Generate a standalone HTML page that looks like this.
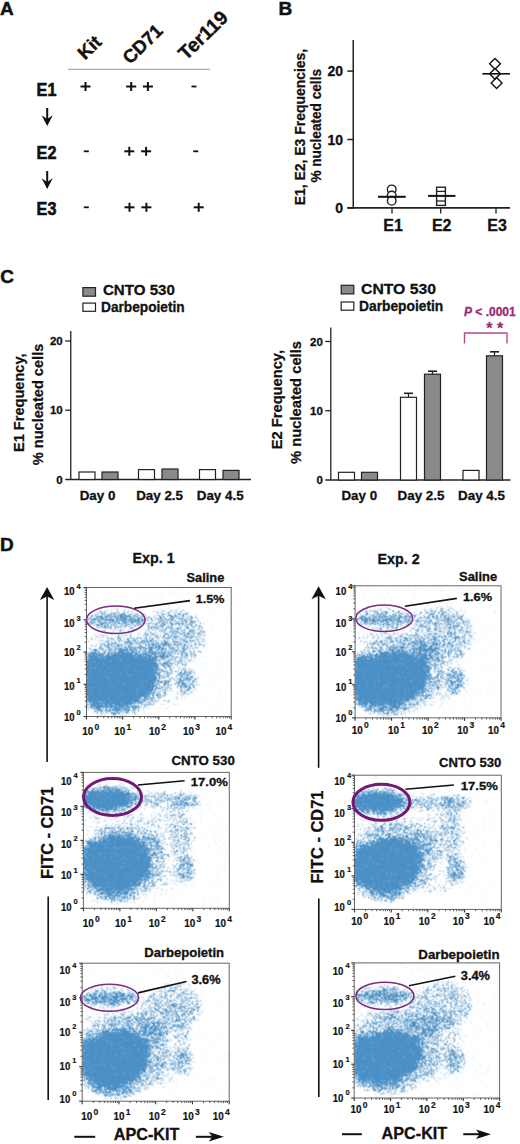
<!DOCTYPE html>
<html><head><meta charset="utf-8"><style>
html,body{margin:0;padding:0;background:#fff;}
body{width:520px;height:1144px;overflow:hidden;}
svg{display:block;font-family:"Liberation Sans", sans-serif;}
</style></head><body>
<svg width="520" height="1144" viewBox="0 0 520 1144">
<text x="0" y="15.4" font-size="19" text-anchor="start" font-weight="bold" fill="#111" stroke="#111" stroke-width="0.5" >A</text>
<g>
<text transform="translate(85,60.5) rotate(-44)" font-size="18.5" font-weight="bold" fill="#111" stroke="#111" stroke-width="0.4">Kit</text>
<text transform="translate(130,65) rotate(-44)" font-size="18.5" font-weight="bold" fill="#111" stroke="#111" stroke-width="0.4">CD71</text>
<text transform="translate(186,61) rotate(-44)" font-size="19.5" font-weight="bold" fill="#111" stroke="#111" stroke-width="0.4">Ter119</text>
</g>
<line x1="68" y1="69.3" x2="210" y2="69.3" stroke="#aaa" stroke-width="1.2" />
<text x="36.60" y="95.9" font-size="17.5" font-weight="bold" fill="#111" textLength="19.80" lengthAdjust="spacingAndGlyphs" stroke="#111" stroke-width="0.6" >E1</text>
<text x="36.60" y="159.4" font-size="17.5" font-weight="bold" fill="#111" textLength="19.80" lengthAdjust="spacingAndGlyphs" stroke="#111" stroke-width="0.6" >E2</text>
<text x="36.60" y="214.9" font-size="17.5" font-weight="bold" fill="#111" textLength="19.80" lengthAdjust="spacingAndGlyphs" stroke="#111" stroke-width="0.6" >E3</text>
<line x1="47.2" y1="108" x2="47.2" y2="121" stroke="#111" stroke-width="2" />
<path d="M47.2,126 L41.6,115.2 L47.2,119 L52.8,115.2 Z" fill="#111"/>
<line x1="47.2" y1="171" x2="47.2" y2="184" stroke="#111" stroke-width="2" />
<path d="M47.2,189 L41.6,178.2 L47.2,182 L52.8,178.2 Z" fill="#111"/>
<line x1="80.5" y1="86.5" x2="90.5" y2="86.5" stroke="#111" stroke-width="2" />
<line x1="85.5" y1="82.0" x2="85.5" y2="91.0" stroke="#111" stroke-width="2" />
<line x1="126.19999999999999" y1="86.5" x2="136.2" y2="86.5" stroke="#111" stroke-width="2" />
<line x1="131.2" y1="82.0" x2="131.2" y2="91.0" stroke="#111" stroke-width="2" />
<line x1="142.9" y1="86.5" x2="152.9" y2="86.5" stroke="#111" stroke-width="2" />
<line x1="147.9" y1="82.0" x2="147.9" y2="91.0" stroke="#111" stroke-width="2" />
<line x1="191.5" y1="86.5" x2="196.5" y2="86.5" stroke="#111" stroke-width="1.8" />
<line x1="83.8" y1="151.3" x2="88.8" y2="151.3" stroke="#111" stroke-width="1.8" />
<line x1="124.30000000000001" y1="151.3" x2="134.3" y2="151.3" stroke="#111" stroke-width="2" />
<line x1="129.3" y1="146.8" x2="129.3" y2="155.8" stroke="#111" stroke-width="2" />
<line x1="141.1" y1="151.3" x2="151.1" y2="151.3" stroke="#111" stroke-width="2" />
<line x1="146.1" y1="146.8" x2="146.1" y2="155.8" stroke="#111" stroke-width="2" />
<line x1="193.2" y1="151.3" x2="198.2" y2="151.3" stroke="#111" stroke-width="1.8" />
<line x1="83.8" y1="207.3" x2="88.8" y2="207.3" stroke="#111" stroke-width="1.8" />
<line x1="124.5" y1="207.3" x2="134.5" y2="207.3" stroke="#111" stroke-width="2" />
<line x1="129.5" y1="202.8" x2="129.5" y2="211.8" stroke="#111" stroke-width="2" />
<line x1="141.4" y1="207.3" x2="151.4" y2="207.3" stroke="#111" stroke-width="2" />
<line x1="146.4" y1="202.8" x2="146.4" y2="211.8" stroke="#111" stroke-width="2" />
<line x1="193.7" y1="207.3" x2="203.7" y2="207.3" stroke="#111" stroke-width="2" />
<line x1="198.7" y1="202.8" x2="198.7" y2="211.8" stroke="#111" stroke-width="2" />
<text x="278.6" y="15" font-size="19" text-anchor="start" font-weight="bold" fill="#111" stroke="#111" stroke-width="0.5" >B</text>
<line x1="353.25" y1="40" x2="353.25" y2="208.6" stroke="#222" stroke-width="1.5" />
<line x1="347.3" y1="207.9" x2="510" y2="207.9" stroke="#222" stroke-width="1.6" />
<line x1="347.3" y1="71.1" x2="353.25" y2="71.1" stroke="#222" stroke-width="1.5" />
<text x="343" y="76.19999999999999" font-size="14" text-anchor="end" font-weight="bold" fill="#111" stroke="#111" stroke-width="0.3" >20</text>
<line x1="347.3" y1="139.5" x2="353.25" y2="139.5" stroke="#222" stroke-width="1.5" />
<text x="343" y="144.6" font-size="14" text-anchor="end" font-weight="bold" fill="#111" stroke="#111" stroke-width="0.3" >10</text>
<line x1="347.3" y1="207.9" x2="353.25" y2="207.9" stroke="#222" stroke-width="1.5" />
<text x="343" y="213.0" font-size="14" text-anchor="end" font-weight="bold" fill="#111" stroke="#111" stroke-width="0.3" >0</text>
<line x1="392" y1="208" x2="392" y2="213.5" stroke="#222" stroke-width="1.3" />
<text x="393" y="231.3" font-size="16" text-anchor="middle" font-weight="bold" fill="#111" stroke="#111" stroke-width="0.3" >E1</text>
<line x1="440.7" y1="208" x2="440.7" y2="213.5" stroke="#222" stroke-width="1.3" />
<text x="441.7" y="231.3" font-size="16" text-anchor="middle" font-weight="bold" fill="#111" stroke="#111" stroke-width="0.3" >E2</text>
<line x1="496" y1="208" x2="496" y2="213.5" stroke="#222" stroke-width="1.3" />
<text x="497" y="231.3" font-size="16" text-anchor="middle" font-weight="bold" fill="#111" stroke="#111" stroke-width="0.3" >E3</text>
<text transform="translate(305.1,205.30) rotate(-90)" font-size="14.00" font-weight="bold" fill="#111" textLength="156.49" lengthAdjust="spacingAndGlyphs" stroke="#111" stroke-width="0.25">E1, E2, E3 Frequencies,</text>
<text transform="translate(320.8,182.60) rotate(-90)" font-size="14.00" font-weight="bold" fill="#111" textLength="113.60" lengthAdjust="spacingAndGlyphs" stroke="#111" stroke-width="0.25">% nucleated cells</text>
<circle cx="391.7" cy="189.4" r="4.3" fill="#fff" stroke="#222" stroke-width="1.4"/>
<circle cx="391.7" cy="195.5" r="4.3" fill="#fff" stroke="#222" stroke-width="1.4"/>
<circle cx="391.7" cy="200.8" r="4.3" fill="#fff" stroke="#222" stroke-width="1.4"/>
<line x1="378" y1="196.8" x2="405.7" y2="196.8" stroke="#111" stroke-width="2" />
<rect x="436.6" y="187.2" width="8.8" height="18.2" fill="none" stroke="#222" stroke-width="1.4"/>
<line x1="436.6" y1="191.4" x2="445.4" y2="191.4" stroke="#222" stroke-width="1.3" />
<line x1="436.6" y1="201" x2="445.4" y2="201" stroke="#222" stroke-width="1.3" />
<line x1="428.1" y1="195.9" x2="455.4" y2="195.9" stroke="#111" stroke-width="2" />
<path d="M495,58.4 L500.4,63.8 L495,69.2 L489.6,63.8 Z" fill="none" stroke="#111" stroke-width="1.4"/>
<path d="M495,68.39999999999999 L500.4,73.8 L495,79.2 L489.6,73.8 Z" fill="none" stroke="#111" stroke-width="1.4"/>
<path d="M496.6,77.6 L502.0,83 L496.6,88.4 L491.20000000000005,83 Z" fill="none" stroke="#111" stroke-width="1.4"/>
<line x1="482.3" y1="73.8" x2="510" y2="73.8" stroke="#111" stroke-width="1.6" />
<text x="0.2" y="283" font-size="19" text-anchor="start" font-weight="bold" fill="#111" stroke="#111" stroke-width="0.5" >C</text>
<rect x="82.9" y="287.6" width="12.6" height="8.6" fill="#8a8a8a" stroke="#222" stroke-width="1.2"/>
<text x="102.90" y="295.2" font-size="15" font-weight="bold" fill="#111" textLength="72.00" lengthAdjust="spacingAndGlyphs" stroke="#111" stroke-width="0.3" >CNTO 530</text>
<rect x="82.9" y="303.1" width="12.6" height="8.2" fill="#fff" stroke="#222" stroke-width="1.2"/>
<text x="101.10" y="311.8" font-size="13.8" font-weight="bold" fill="#111" textLength="83.50" lengthAdjust="spacingAndGlyphs" stroke="#111" stroke-width="0.3" >Darbepoietin</text>
<rect x="341.2" y="285.3" width="12.6" height="8.6" fill="#8a8a8a" stroke="#222" stroke-width="1.2"/>
<text x="361.00" y="293.8" font-size="15" font-weight="bold" fill="#111" textLength="75.00" lengthAdjust="spacingAndGlyphs" stroke="#111" stroke-width="0.3" >CNTO 530</text>
<rect x="341.2" y="302" width="12.6" height="8.2" fill="#fff" stroke="#222" stroke-width="1.2"/>
<text x="359.00" y="310.8" font-size="13.8" font-weight="bold" fill="#111" textLength="84.30" lengthAdjust="spacingAndGlyphs" stroke="#111" stroke-width="0.3" >Darbepoietin</text>
<line x1="70.75" y1="331" x2="70.75" y2="480.1" stroke="#222" stroke-width="1.3" />
<line x1="65.25" y1="479.5" x2="251" y2="479.5" stroke="#222" stroke-width="1.3" />
<line x1="65.25" y1="341.0" x2="70.75" y2="341.0" stroke="#222" stroke-width="1.3" />
<text x="62.75" y="345.0" font-size="11.5" text-anchor="end" font-weight="bold" fill="#111" stroke="#111" stroke-width="0.3" >20</text>
<line x1="65.25" y1="410.2" x2="70.75" y2="410.2" stroke="#222" stroke-width="1.3" />
<text x="62.75" y="414.2" font-size="11.5" text-anchor="end" font-weight="bold" fill="#111" stroke="#111" stroke-width="0.3" >10</text>
<text x="62.75" y="483.5" font-size="11.5" text-anchor="end" font-weight="bold" fill="#111" stroke="#111" stroke-width="0.3" >0</text>
<rect x="79" y="472" width="16" height="7.5" fill="#fff" stroke="#222" stroke-width="1.2"/>
<rect x="102" y="472" width="16" height="7.5" fill="#8a8a8a" stroke="#222" stroke-width="1.2"/>
<rect x="138.5" y="469.6" width="16" height="9.899999999999977" fill="#fff" stroke="#222" stroke-width="1.2"/>
<rect x="162" y="469" width="16" height="10.5" fill="#8a8a8a" stroke="#222" stroke-width="1.2"/>
<rect x="199.5" y="469.6" width="16" height="9.899999999999977" fill="#fff" stroke="#222" stroke-width="1.2"/>
<rect x="223" y="470.4" width="16" height="9.100000000000023" fill="#8a8a8a" stroke="#222" stroke-width="1.2"/>
<text x="97.5" y="499.6" font-size="13.4" text-anchor="middle" font-weight="bold" fill="#111" stroke="#111" stroke-width="0.3" >Day 0</text>
<text x="159.6" y="499.6" font-size="13.4" text-anchor="middle" font-weight="bold" fill="#111" stroke="#111" stroke-width="0.3" >Day 2.5</text>
<text x="220.2" y="499.6" font-size="13.4" text-anchor="middle" font-weight="bold" fill="#111" stroke="#111" stroke-width="0.3" >Day 4.5</text>
<text transform="translate(24.0,452.00) rotate(-90)" font-size="14.50" font-weight="bold" fill="#111" textLength="98.50" lengthAdjust="spacingAndGlyphs" stroke="#111" stroke-width="0.25">E1 Frequency,</text>
<text transform="translate(42.7,465.30) rotate(-90)" font-size="14.60" font-weight="bold" fill="#111" textLength="121.60" lengthAdjust="spacingAndGlyphs" stroke="#111" stroke-width="0.25">% nucleated cells</text>
<line x1="330.8" y1="327.6" x2="330.8" y2="480.6" stroke="#222" stroke-width="1.3" />
<line x1="325.3" y1="480" x2="510.5" y2="480" stroke="#222" stroke-width="1.3" />
<line x1="325.3" y1="341.5" x2="330.8" y2="341.5" stroke="#222" stroke-width="1.3" />
<text x="322.8" y="345.5" font-size="11.5" text-anchor="end" font-weight="bold" fill="#111" stroke="#111" stroke-width="0.3" >20</text>
<line x1="325.3" y1="410.7" x2="330.8" y2="410.7" stroke="#222" stroke-width="1.3" />
<text x="322.8" y="414.7" font-size="11.5" text-anchor="end" font-weight="bold" fill="#111" stroke="#111" stroke-width="0.3" >10</text>
<text x="322.8" y="484" font-size="11.5" text-anchor="end" font-weight="bold" fill="#111" stroke="#111" stroke-width="0.3" >0</text>
<rect x="338.5" y="472.3" width="16" height="7.699999999999989" fill="#fff" stroke="#222" stroke-width="1.2"/>
<rect x="361.5" y="472.3" width="16" height="7.699999999999989" fill="#8a8a8a" stroke="#222" stroke-width="1.2"/>
<line x1="408.5" y1="393.3" x2="408.5" y2="397.3" stroke="#222" stroke-width="1.2" />
<line x1="404.0" y1="393.3" x2="413.0" y2="393.3" stroke="#222" stroke-width="1.6" />
<rect x="400.5" y="397.3" width="16" height="82.69999999999999" fill="#fff" stroke="#222" stroke-width="1.2"/>
<line x1="432.5" y1="371.2" x2="432.5" y2="374.2" stroke="#222" stroke-width="1.2" />
<line x1="428.0" y1="371.2" x2="437.0" y2="371.2" stroke="#222" stroke-width="1.6" />
<rect x="424.5" y="374.2" width="16" height="105.80000000000001" fill="#8a8a8a" stroke="#222" stroke-width="1.2"/>
<rect x="463" y="470.4" width="16" height="9.600000000000023" fill="#fff" stroke="#222" stroke-width="1.2"/>
<line x1="494.5" y1="351.8" x2="494.5" y2="355.8" stroke="#222" stroke-width="1.2" />
<line x1="490.0" y1="351.8" x2="499.0" y2="351.8" stroke="#222" stroke-width="1.6" />
<rect x="486.5" y="355.8" width="16" height="124.19999999999999" fill="#8a8a8a" stroke="#222" stroke-width="1.2"/>
<text x="359.3" y="500.4" font-size="13.4" text-anchor="middle" font-weight="bold" fill="#111" stroke="#111" stroke-width="0.3" >Day 0</text>
<text x="421" y="500.4" font-size="13.4" text-anchor="middle" font-weight="bold" fill="#111" stroke="#111" stroke-width="0.3" >Day 2.5</text>
<text x="481.5" y="500.4" font-size="13.4" text-anchor="middle" font-weight="bold" fill="#111" stroke="#111" stroke-width="0.3" >Day 4.5</text>
<text transform="translate(281.6,449.20) rotate(-90)" font-size="14.70" font-weight="bold" fill="#111" textLength="99.20" lengthAdjust="spacingAndGlyphs" stroke="#111" stroke-width="0.25">E2 Frequency,</text>
<text transform="translate(301.1,463.90) rotate(-90)" font-size="14.70" font-weight="bold" fill="#111" textLength="122.90" lengthAdjust="spacingAndGlyphs" stroke="#111" stroke-width="0.25">% nucleated cells</text>
<text x="464" y="316" font-size="12" text-anchor="start" font-weight="bold" fill="#9a2a78" stroke="#9a2a78" stroke-width="0.3" ><tspan font-style="italic">P</tspan> &lt; .0001</text>
<text x="494.8" y="333.5" font-size="16" text-anchor="middle" font-weight="bold" fill="#9a2a78" stroke="#9a2a78" stroke-width="0.2" >* *</text>
<path d="M464.5,343.5 V333 H507 V343.5" fill="none" stroke="#b44a8a" stroke-width="1.4"/>
<text x="0" y="550.5" font-size="19" text-anchor="start" font-weight="bold" fill="#111" stroke="#111" stroke-width="0.5" >D</text>
<text x="153.6" y="562.7" font-size="14.3" text-anchor="middle" font-weight="bold" fill="#111" stroke="#111" stroke-width="0.3" >Exp. 1</text>
<text x="398.6" y="563.5" font-size="14.3" text-anchor="middle" font-weight="bold" fill="#111" stroke="#111" stroke-width="0.3" >Exp. 2</text>
<line x1="47.1" y1="595" x2="47.1" y2="762" stroke="#111" stroke-width="1.6" />
<path d="M47.1,587 L54.300000000000004,600 L47.1,596.5 L39.9,600 Z" fill="#111"/>
<line x1="48.2" y1="896.5" x2="48.2" y2="1100" stroke="#111" stroke-width="1.6" />
<line x1="318.6" y1="594.2" x2="318.6" y2="767.8" stroke="#111" stroke-width="1.6" />
<path d="M318.6,586.2 L325.8,599.2 L318.6,595.7 L311.40000000000003,599.2 Z" fill="#111"/>
<line x1="318.8" y1="898.5" x2="318.8" y2="1097" stroke="#111" stroke-width="1.6" />
<text transform="translate(52.7,879.00) rotate(-90)" font-size="16.20" font-weight="bold" fill="#111" textLength="92.00" lengthAdjust="spacingAndGlyphs" stroke="#111" stroke-width="0.3">FITC - CD71</text>
<text transform="translate(323.3,883.50) rotate(-90)" font-size="16.20" font-weight="bold" fill="#111" textLength="92.90" lengthAdjust="spacingAndGlyphs" stroke="#111" stroke-width="0.3">FITC - CD71</text>
<line x1="74.3" y1="1136.8" x2="95.2" y2="1136.8" stroke="#111" stroke-width="2" />
<text x="146.55" y="1140.2" font-size="16.2" text-anchor="middle" font-weight="bold" fill="#111" stroke="#111" stroke-width="0.3" >APC-KIT</text>
<line x1="195.8" y1="1136.8" x2="217.8" y2="1136.8" stroke="#111" stroke-width="2" />
<path d="M223.8,1136.8 L208.8,1132.0 L212.3,1136.8 L208.8,1141.6 Z" fill="#111"/>
<line x1="342" y1="1134.2" x2="361.8" y2="1134.2" stroke="#111" stroke-width="2" />
<text x="414.45" y="1138.6" font-size="16.2" text-anchor="middle" font-weight="bold" fill="#111" stroke="#111" stroke-width="0.3" >APC-KIT</text>
<line x1="463.3" y1="1134.2" x2="485" y2="1134.2" stroke="#111" stroke-width="2" />
<path d="M491,1134.2 L476,1129.4 L479.5,1134.2 L476,1139.0 Z" fill="#111"/>
<defs><clipPath id="c1"><rect x="86.5" y="587.5" width="144.7" height="129.0"/></clipPath><filter id="f1" x="86.5" y="587.5" width="144.7" height="129.0" filterUnits="userSpaceOnUse" color-interpolation-filters="sRGB"><feGaussianBlur in="SourceAlpha" stdDeviation="2.5" result="d"/><feTurbulence type="fractalNoise" baseFrequency="1.7" numOctaves="2" seed="11" result="noise"/><feColorMatrix in="noise" type="matrix" values="0 0 0 0 0  0 0 0 0 0  0 0 0 0 0  1 0 0 0 0" result="nr"/><feComponentTransfer in="nr" result="u"><feFuncA type="table" tableValues="0.000 0.000 0.000 0.000 0.000 0.001 0.002 0.006 0.016 0.034 0.063 0.102 0.153 0.219 0.299 0.393 0.490 0.609 0.701 0.780 0.845 0.898 0.937 0.966 0.985 0.994 0.998 0.999 1.000 1.000 1.000 1.000 1.000"/></feComponentTransfer><feComposite in="d" in2="u" operator="arithmetic" k1="0" k2="6.6" k3="-6" k4="0" result="m"/><feFlood flood-color="#4a8fc5"/><feComposite in2="m" operator="in"/><feConvolveMatrix order="3" kernelMatrix="1 2 1 2 6 2 1 2 1" edgeMode="none"/></filter></defs>
<g clip-path="url(#c1)"><g filter="url(#f1)">
<rect x="86.5" y="587.5" width="144.7" height="129.0" fill="#fff" fill-opacity="0"/>
<ellipse cx="300.0" cy="800.0" rx="400" ry="800" fill="#000" fill-opacity="0.035" transform="rotate(0 300.0 800.0)"/>
<ellipse cx="116.0" cy="620.0" rx="28" ry="6.5" fill="#000" fill-opacity="0.62" transform="rotate(0 116.0 620.0)"/>
<ellipse cx="116.0" cy="620.0" rx="30" ry="10" fill="#000" fill-opacity="0.2" transform="rotate(0 116.0 620.0)"/>
<ellipse cx="168.0" cy="620.0" rx="30" ry="9" fill="#000" fill-opacity="0.22" transform="rotate(0 168.0 620.0)"/>
<ellipse cx="174.0" cy="640.0" rx="32" ry="28" fill="#000" fill-opacity="0.3" transform="rotate(-25 174.0 640.0)"/>
<ellipse cx="176.0" cy="643.0" rx="16" ry="12" fill="#000" fill-opacity="0.2" transform="rotate(-25 176.0 643.0)"/>
<ellipse cx="120.0" cy="641.0" rx="34" ry="11" fill="#000" fill-opacity="0.15" transform="rotate(0 120.0 641.0)"/>
<ellipse cx="152.0" cy="655.0" rx="18" ry="10" fill="#000" fill-opacity="0.35" transform="rotate(-35 152.0 655.0)"/>
<ellipse cx="124.0" cy="676.0" rx="50" ry="38" fill="#000" fill-opacity="0.35" transform="rotate(-15 124.0 676.0)"/>
<ellipse cx="121.0" cy="679.0" rx="37" ry="28" fill="#000" fill-opacity="1" transform="rotate(-10 121.0 679.0)"/>
<ellipse cx="140.0" cy="669.0" rx="18" ry="13" fill="#000" fill-opacity="1" transform="rotate(-20 140.0 669.0)"/>
<ellipse cx="94.0" cy="679.0" rx="12" ry="29" fill="#000" fill-opacity="1" transform="rotate(0 94.0 679.0)"/>
<ellipse cx="113.0" cy="707.0" rx="22" ry="7" fill="#000" fill-opacity="0.45" transform="rotate(0 113.0 707.0)"/>
<ellipse cx="185.5" cy="681.0" rx="10" ry="13" fill="#000" fill-opacity="0.55" transform="rotate(0 185.5 681.0)"/>
<ellipse cx="165.0" cy="692.0" rx="20" ry="15" fill="#000" fill-opacity="0.12" transform="rotate(0 165.0 692.0)"/>
</g></g>
<rect x="86.5" y="587.5" width="144.7" height="129.0" fill="none" stroke="#666" stroke-width="1"/>
<line x1="83.5" y1="587.5" x2="86.5" y2="587.5" stroke="#333" stroke-width="1.1" />
<line x1="84.7" y1="610.0417826398366" x2="86.5" y2="610.0417826398366" stroke="#444" stroke-width="0.9" />
<line x1="84.7" y1="604.3628395352908" x2="86.5" y2="604.3628395352908" stroke="#444" stroke-width="0.9" />
<line x1="84.7" y1="600.3335652796732" x2="86.5" y2="600.3335652796732" stroke="#444" stroke-width="0.9" />
<line x1="84.7" y1="597.2082173601634" x2="86.5" y2="597.2082173601634" stroke="#444" stroke-width="0.9" />
<line x1="84.7" y1="594.6546221751275" x2="86.5" y2="594.6546221751275" stroke="#444" stroke-width="0.9" />
<line x1="84.7" y1="592.4955882095402" x2="86.5" y2="592.4955882095402" stroke="#444" stroke-width="0.9" />
<line x1="84.7" y1="590.6253479195099" x2="86.5" y2="590.6253479195099" stroke="#444" stroke-width="0.9" />
<line x1="84.7" y1="588.9756790705818" x2="86.5" y2="588.9756790705818" stroke="#444" stroke-width="0.9" />
<line x1="83.5" y1="619.75" x2="86.5" y2="619.75" stroke="#333" stroke-width="1.1" />
<line x1="84.7" y1="642.2917826398366" x2="86.5" y2="642.2917826398366" stroke="#444" stroke-width="0.9" />
<line x1="84.7" y1="636.6128395352908" x2="86.5" y2="636.6128395352908" stroke="#444" stroke-width="0.9" />
<line x1="84.7" y1="632.5835652796732" x2="86.5" y2="632.5835652796732" stroke="#444" stroke-width="0.9" />
<line x1="84.7" y1="629.4582173601634" x2="86.5" y2="629.4582173601634" stroke="#444" stroke-width="0.9" />
<line x1="84.7" y1="626.9046221751275" x2="86.5" y2="626.9046221751275" stroke="#444" stroke-width="0.9" />
<line x1="84.7" y1="624.7455882095402" x2="86.5" y2="624.7455882095402" stroke="#444" stroke-width="0.9" />
<line x1="84.7" y1="622.8753479195099" x2="86.5" y2="622.8753479195099" stroke="#444" stroke-width="0.9" />
<line x1="84.7" y1="621.2256790705818" x2="86.5" y2="621.2256790705818" stroke="#444" stroke-width="0.9" />
<line x1="83.5" y1="652.0" x2="86.5" y2="652.0" stroke="#333" stroke-width="1.1" />
<line x1="84.7" y1="674.5417826398366" x2="86.5" y2="674.5417826398366" stroke="#444" stroke-width="0.9" />
<line x1="84.7" y1="668.8628395352908" x2="86.5" y2="668.8628395352908" stroke="#444" stroke-width="0.9" />
<line x1="84.7" y1="664.8335652796732" x2="86.5" y2="664.8335652796732" stroke="#444" stroke-width="0.9" />
<line x1="84.7" y1="661.7082173601634" x2="86.5" y2="661.7082173601634" stroke="#444" stroke-width="0.9" />
<line x1="84.7" y1="659.1546221751275" x2="86.5" y2="659.1546221751275" stroke="#444" stroke-width="0.9" />
<line x1="84.7" y1="656.9955882095402" x2="86.5" y2="656.9955882095402" stroke="#444" stroke-width="0.9" />
<line x1="84.7" y1="655.1253479195099" x2="86.5" y2="655.1253479195099" stroke="#444" stroke-width="0.9" />
<line x1="84.7" y1="653.4756790705818" x2="86.5" y2="653.4756790705818" stroke="#444" stroke-width="0.9" />
<line x1="83.5" y1="684.25" x2="86.5" y2="684.25" stroke="#333" stroke-width="1.1" />
<line x1="84.7" y1="706.7917826398366" x2="86.5" y2="706.7917826398366" stroke="#444" stroke-width="0.9" />
<line x1="84.7" y1="701.1128395352908" x2="86.5" y2="701.1128395352908" stroke="#444" stroke-width="0.9" />
<line x1="84.7" y1="697.0835652796732" x2="86.5" y2="697.0835652796732" stroke="#444" stroke-width="0.9" />
<line x1="84.7" y1="693.9582173601634" x2="86.5" y2="693.9582173601634" stroke="#444" stroke-width="0.9" />
<line x1="84.7" y1="691.4046221751275" x2="86.5" y2="691.4046221751275" stroke="#444" stroke-width="0.9" />
<line x1="84.7" y1="689.2455882095402" x2="86.5" y2="689.2455882095402" stroke="#444" stroke-width="0.9" />
<line x1="84.7" y1="687.3753479195099" x2="86.5" y2="687.3753479195099" stroke="#444" stroke-width="0.9" />
<line x1="84.7" y1="685.7256790705818" x2="86.5" y2="685.7256790705818" stroke="#444" stroke-width="0.9" />
<line x1="83.5" y1="716.5" x2="86.5" y2="716.5" stroke="#333" stroke-width="1.1" />
<line x1="86.5" y1="716.5" x2="86.5" y2="719.5" stroke="#333" stroke-width="1.1" />
<line x1="97.38976009314452" y1="716.5" x2="97.38976009314452" y2="718.3" stroke="#444" stroke-width="0.9" />
<line x1="103.75986138948379" y1="716.5" x2="103.75986138948379" y2="718.3" stroke="#444" stroke-width="0.9" />
<line x1="108.27952018628903" y1="716.5" x2="108.27952018628903" y2="718.3" stroke="#444" stroke-width="0.9" />
<line x1="111.78523990685548" y1="716.5" x2="111.78523990685548" y2="718.3" stroke="#444" stroke-width="0.9" />
<line x1="114.6496214826283" y1="716.5" x2="114.6496214826283" y2="718.3" stroke="#444" stroke-width="0.9" />
<line x1="117.07142159751574" y1="716.5" x2="117.07142159751574" y2="718.3" stroke="#444" stroke-width="0.9" />
<line x1="119.16928027943356" y1="716.5" x2="119.16928027943356" y2="718.3" stroke="#444" stroke-width="0.9" />
<line x1="121.01972277896758" y1="716.5" x2="121.01972277896758" y2="718.3" stroke="#444" stroke-width="0.9" />
<line x1="122.675" y1="716.5" x2="122.675" y2="719.5" stroke="#333" stroke-width="1.1" />
<line x1="133.5647600931445" y1="716.5" x2="133.5647600931445" y2="718.3" stroke="#444" stroke-width="0.9" />
<line x1="139.93486138948379" y1="716.5" x2="139.93486138948379" y2="718.3" stroke="#444" stroke-width="0.9" />
<line x1="144.45452018628905" y1="716.5" x2="144.45452018628905" y2="718.3" stroke="#444" stroke-width="0.9" />
<line x1="147.96023990685546" y1="716.5" x2="147.96023990685546" y2="718.3" stroke="#444" stroke-width="0.9" />
<line x1="150.8246214826283" y1="716.5" x2="150.8246214826283" y2="718.3" stroke="#444" stroke-width="0.9" />
<line x1="153.24642159751573" y1="716.5" x2="153.24642159751573" y2="718.3" stroke="#444" stroke-width="0.9" />
<line x1="155.34428027943355" y1="716.5" x2="155.34428027943355" y2="718.3" stroke="#444" stroke-width="0.9" />
<line x1="157.19472277896756" y1="716.5" x2="157.19472277896756" y2="718.3" stroke="#444" stroke-width="0.9" />
<line x1="158.85" y1="716.5" x2="158.85" y2="719.5" stroke="#333" stroke-width="1.1" />
<line x1="169.73976009314453" y1="716.5" x2="169.73976009314453" y2="718.3" stroke="#444" stroke-width="0.9" />
<line x1="176.1098613894838" y1="716.5" x2="176.1098613894838" y2="718.3" stroke="#444" stroke-width="0.9" />
<line x1="180.62952018628903" y1="716.5" x2="180.62952018628903" y2="718.3" stroke="#444" stroke-width="0.9" />
<line x1="184.13523990685547" y1="716.5" x2="184.13523990685547" y2="718.3" stroke="#444" stroke-width="0.9" />
<line x1="186.9996214826283" y1="716.5" x2="186.9996214826283" y2="718.3" stroke="#444" stroke-width="0.9" />
<line x1="189.42142159751575" y1="716.5" x2="189.42142159751575" y2="718.3" stroke="#444" stroke-width="0.9" />
<line x1="191.51928027943356" y1="716.5" x2="191.51928027943356" y2="718.3" stroke="#444" stroke-width="0.9" />
<line x1="193.36972277896757" y1="716.5" x2="193.36972277896757" y2="718.3" stroke="#444" stroke-width="0.9" />
<line x1="195.02499999999998" y1="716.5" x2="195.02499999999998" y2="719.5" stroke="#333" stroke-width="1.1" />
<line x1="205.9147600931445" y1="716.5" x2="205.9147600931445" y2="718.3" stroke="#444" stroke-width="0.9" />
<line x1="212.28486138948375" y1="716.5" x2="212.28486138948375" y2="718.3" stroke="#444" stroke-width="0.9" />
<line x1="216.804520186289" y1="716.5" x2="216.804520186289" y2="718.3" stroke="#444" stroke-width="0.9" />
<line x1="220.31023990685546" y1="716.5" x2="220.31023990685546" y2="718.3" stroke="#444" stroke-width="0.9" />
<line x1="223.17462148262828" y1="716.5" x2="223.17462148262828" y2="718.3" stroke="#444" stroke-width="0.9" />
<line x1="225.5964215975157" y1="716.5" x2="225.5964215975157" y2="718.3" stroke="#444" stroke-width="0.9" />
<line x1="227.69428027943354" y1="716.5" x2="227.69428027943354" y2="718.3" stroke="#444" stroke-width="0.9" />
<line x1="229.54472277896755" y1="716.5" x2="229.54472277896755" y2="718.3" stroke="#444" stroke-width="0.9" />
<line x1="231.2" y1="716.5" x2="231.2" y2="719.5" stroke="#333" stroke-width="1.1" />
<text x="64.00" y="595" font-size="10" font-weight="bold" fill="#111" textLength="10.60" lengthAdjust="spacingAndGlyphs" stroke="#111" stroke-width="0.2" >10</text>
<text x="76.6" y="588.7" font-size="7.5" font-weight="bold" fill="#111" stroke="#111" stroke-width="0.15">4</text>
<text x="64.00" y="627" font-size="10" font-weight="bold" fill="#111" textLength="10.60" lengthAdjust="spacingAndGlyphs" stroke="#111" stroke-width="0.2" >10</text>
<text x="76.6" y="620.7" font-size="7.5" font-weight="bold" fill="#111" stroke="#111" stroke-width="0.15">3</text>
<text x="64.00" y="656.3" font-size="10" font-weight="bold" fill="#111" textLength="10.60" lengthAdjust="spacingAndGlyphs" stroke="#111" stroke-width="0.2" >10</text>
<text x="76.6" y="650.0" font-size="7.5" font-weight="bold" fill="#111" stroke="#111" stroke-width="0.15">2</text>
<text x="64.00" y="689.5" font-size="10" font-weight="bold" fill="#111" textLength="10.60" lengthAdjust="spacingAndGlyphs" stroke="#111" stroke-width="0.2" >10</text>
<text x="76.6" y="683.2" font-size="7.5" font-weight="bold" fill="#111" stroke="#111" stroke-width="0.15">1</text>
<text x="64.00" y="720.8" font-size="10" font-weight="bold" fill="#111" textLength="10.60" lengthAdjust="spacingAndGlyphs" stroke="#111" stroke-width="0.2" >10</text>
<text x="76.6" y="714.5" font-size="7.5" font-weight="bold" fill="#111" stroke="#111" stroke-width="0.15">0</text>
<text x="82.20" y="735.4" font-size="10.5" font-weight="bold" fill="#111" textLength="11.00" lengthAdjust="spacingAndGlyphs" stroke="#111" stroke-width="0.2" >10</text>
<text x="94.4" y="730.1" font-size="8.5" font-weight="bold" fill="#111" stroke="#111" stroke-width="0.15">0</text>
<text x="114.30" y="735.4" font-size="10.5" font-weight="bold" fill="#111" textLength="11.00" lengthAdjust="spacingAndGlyphs" stroke="#111" stroke-width="0.2" >10</text>
<text x="126.5" y="730.1" font-size="8.5" font-weight="bold" fill="#111" stroke="#111" stroke-width="0.15">1</text>
<text x="149.00" y="735.4" font-size="10.5" font-weight="bold" fill="#111" textLength="11.00" lengthAdjust="spacingAndGlyphs" stroke="#111" stroke-width="0.2" >10</text>
<text x="161.2" y="730.1" font-size="8.5" font-weight="bold" fill="#111" stroke="#111" stroke-width="0.15">2</text>
<text x="183.00" y="735.4" font-size="10.5" font-weight="bold" fill="#111" textLength="11.00" lengthAdjust="spacingAndGlyphs" stroke="#111" stroke-width="0.2" >10</text>
<text x="195.2" y="730.1" font-size="8.5" font-weight="bold" fill="#111" stroke="#111" stroke-width="0.15">3</text>
<text x="215.40" y="735.4" font-size="10.5" font-weight="bold" fill="#111" textLength="11.00" lengthAdjust="spacingAndGlyphs" stroke="#111" stroke-width="0.2" >10</text>
<text x="227.6" y="730.1" font-size="8.5" font-weight="bold" fill="#111" stroke="#111" stroke-width="0.15">4</text>
<ellipse cx="115.8" cy="619.8" rx="29.3" ry="13.7" fill="none" stroke="#7d2b7f" stroke-width="1.5"/>
<line x1="134.2" y1="608.3" x2="190" y2="600.6" stroke="#111" stroke-width="1.6" />
<text x="195.70" y="603.2" font-size="11.3" font-weight="bold" fill="#111" textLength="28.60" lengthAdjust="spacingAndGlyphs" stroke="#111" stroke-width="0.3" >1.5%</text>
<text x="186.50" y="582" font-size="12.3" font-weight="bold" fill="#111" textLength="37.80" lengthAdjust="spacingAndGlyphs" stroke="#111" stroke-width="0.3" >Saline</text>
<defs><clipPath id="c2"><rect x="83.4" y="772.4" width="145.9" height="135.89999999999998"/></clipPath><filter id="f2" x="83.4" y="772.4" width="145.9" height="135.89999999999998" filterUnits="userSpaceOnUse" color-interpolation-filters="sRGB"><feGaussianBlur in="SourceAlpha" stdDeviation="2.5" result="d"/><feTurbulence type="fractalNoise" baseFrequency="1.7" numOctaves="2" seed="12" result="noise"/><feColorMatrix in="noise" type="matrix" values="0 0 0 0 0  0 0 0 0 0  0 0 0 0 0  1 0 0 0 0" result="nr"/><feComponentTransfer in="nr" result="u"><feFuncA type="table" tableValues="0.000 0.000 0.000 0.000 0.000 0.001 0.002 0.006 0.016 0.034 0.063 0.102 0.153 0.219 0.299 0.393 0.490 0.609 0.701 0.780 0.845 0.898 0.937 0.966 0.985 0.994 0.998 0.999 1.000 1.000 1.000 1.000 1.000"/></feComponentTransfer><feComposite in="d" in2="u" operator="arithmetic" k1="0" k2="6.6" k3="-6" k4="0" result="m"/><feFlood flood-color="#4a8fc5"/><feComposite in2="m" operator="in"/><feConvolveMatrix order="3" kernelMatrix="1 2 1 2 6 2 1 2 1" edgeMode="none"/></filter></defs>
<g clip-path="url(#c2)"><g filter="url(#f2)">
<rect x="83.4" y="772.4" width="145.9" height="135.89999999999998" fill="#fff" fill-opacity="0"/>
<ellipse cx="300.0" cy="800.0" rx="400" ry="800" fill="#000" fill-opacity="0.035" transform="rotate(0 300.0 800.0)"/>
<ellipse cx="107.0" cy="799.5" rx="27" ry="11.5" fill="#000" fill-opacity="1" transform="rotate(0 107.0 799.5)"/>
<ellipse cx="112.0" cy="799.0" rx="32" ry="13" fill="#000" fill-opacity="0.3" transform="rotate(0 112.0 799.0)"/>
<ellipse cx="165.0" cy="800.0" rx="35" ry="7" fill="#000" fill-opacity="0.42" transform="rotate(0 165.0 800.0)"/>
<ellipse cx="185.0" cy="801.0" rx="13" ry="7" fill="#000" fill-opacity="0.3" transform="rotate(0 185.0 801.0)"/>
<ellipse cx="180.0" cy="830.0" rx="12" ry="30" fill="#000" fill-opacity="0.18" transform="rotate(0 180.0 830.0)"/>
<ellipse cx="170.0" cy="835.0" rx="25" ry="25" fill="#000" fill-opacity="0.15" transform="rotate(0 170.0 835.0)"/>
<ellipse cx="120.0" cy="823.0" rx="35" ry="12" fill="#000" fill-opacity="0.15" transform="rotate(0 120.0 823.0)"/>
<ellipse cx="150.0" cy="845.0" rx="15" ry="12" fill="#000" fill-opacity="0.3" transform="rotate(-35 150.0 845.0)"/>
<ellipse cx="120.0" cy="864.0" rx="46" ry="38" fill="#000" fill-opacity="0.35" transform="rotate(-15 120.0 864.0)"/>
<ellipse cx="117.0" cy="864.0" rx="35" ry="29" fill="#000" fill-opacity="1" transform="rotate(-15 117.0 864.0)"/>
<ellipse cx="92.0" cy="862.0" rx="10" ry="22" fill="#000" fill-opacity="1" transform="rotate(0 92.0 862.0)"/>
<ellipse cx="116.0" cy="893.0" rx="18" ry="7" fill="#000" fill-opacity="0.5" transform="rotate(0 116.0 893.0)"/>
<ellipse cx="186.0" cy="868.0" rx="9" ry="13" fill="#000" fill-opacity="0.55" transform="rotate(0 186.0 868.0)"/>
<ellipse cx="165.0" cy="877.0" rx="20" ry="15" fill="#000" fill-opacity="0.12" transform="rotate(0 165.0 877.0)"/>
</g></g>
<rect x="83.4" y="772.4" width="145.9" height="135.89999999999998" fill="none" stroke="#666" stroke-width="1"/>
<line x1="80.4" y1="772.4" x2="83.4" y2="772.4" stroke="#333" stroke-width="1.1" />
<line x1="81.60000000000001" y1="796.1475058973163" x2="83.4" y2="796.1475058973163" stroke="#444" stroke-width="0.9" />
<line x1="81.60000000000001" y1="790.1648053708994" x2="83.4" y2="790.1648053708994" stroke="#444" stroke-width="0.9" />
<line x1="81.60000000000001" y1="785.9200117946325" x2="83.4" y2="785.9200117946325" stroke="#444" stroke-width="0.9" />
<line x1="81.60000000000001" y1="782.6274941026837" x2="83.4" y2="782.6274941026837" stroke="#444" stroke-width="0.9" />
<line x1="81.60000000000001" y1="779.9373112682157" x2="83.4" y2="779.9373112682157" stroke="#444" stroke-width="0.9" />
<line x1="81.60000000000001" y1="777.6627940905156" x2="83.4" y2="777.6627940905156" stroke="#444" stroke-width="0.9" />
<line x1="81.60000000000001" y1="775.6925176919488" x2="83.4" y2="775.6925176919488" stroke="#444" stroke-width="0.9" />
<line x1="81.60000000000001" y1="773.9546107417989" x2="83.4" y2="773.9546107417989" stroke="#444" stroke-width="0.9" />
<line x1="80.4" y1="806.375" x2="83.4" y2="806.375" stroke="#333" stroke-width="1.1" />
<line x1="81.60000000000001" y1="830.1225058973162" x2="83.4" y2="830.1225058973162" stroke="#444" stroke-width="0.9" />
<line x1="81.60000000000001" y1="824.1398053708994" x2="83.4" y2="824.1398053708994" stroke="#444" stroke-width="0.9" />
<line x1="81.60000000000001" y1="819.8950117946324" x2="83.4" y2="819.8950117946324" stroke="#444" stroke-width="0.9" />
<line x1="81.60000000000001" y1="816.6024941026836" x2="83.4" y2="816.6024941026836" stroke="#444" stroke-width="0.9" />
<line x1="81.60000000000001" y1="813.9123112682156" x2="83.4" y2="813.9123112682156" stroke="#444" stroke-width="0.9" />
<line x1="81.60000000000001" y1="811.6377940905155" x2="83.4" y2="811.6377940905155" stroke="#444" stroke-width="0.9" />
<line x1="81.60000000000001" y1="809.6675176919487" x2="83.4" y2="809.6675176919487" stroke="#444" stroke-width="0.9" />
<line x1="81.60000000000001" y1="807.9296107417988" x2="83.4" y2="807.9296107417988" stroke="#444" stroke-width="0.9" />
<line x1="80.4" y1="840.3499999999999" x2="83.4" y2="840.3499999999999" stroke="#333" stroke-width="1.1" />
<line x1="81.60000000000001" y1="864.0975058973162" x2="83.4" y2="864.0975058973162" stroke="#444" stroke-width="0.9" />
<line x1="81.60000000000001" y1="858.1148053708994" x2="83.4" y2="858.1148053708994" stroke="#444" stroke-width="0.9" />
<line x1="81.60000000000001" y1="853.8700117946324" x2="83.4" y2="853.8700117946324" stroke="#444" stroke-width="0.9" />
<line x1="81.60000000000001" y1="850.5774941026837" x2="83.4" y2="850.5774941026837" stroke="#444" stroke-width="0.9" />
<line x1="81.60000000000001" y1="847.8873112682156" x2="83.4" y2="847.8873112682156" stroke="#444" stroke-width="0.9" />
<line x1="81.60000000000001" y1="845.6127940905155" x2="83.4" y2="845.6127940905155" stroke="#444" stroke-width="0.9" />
<line x1="81.60000000000001" y1="843.6425176919487" x2="83.4" y2="843.6425176919487" stroke="#444" stroke-width="0.9" />
<line x1="81.60000000000001" y1="841.9046107417989" x2="83.4" y2="841.9046107417989" stroke="#444" stroke-width="0.9" />
<line x1="80.4" y1="874.3249999999999" x2="83.4" y2="874.3249999999999" stroke="#333" stroke-width="1.1" />
<line x1="81.60000000000001" y1="898.0725058973162" x2="83.4" y2="898.0725058973162" stroke="#444" stroke-width="0.9" />
<line x1="81.60000000000001" y1="892.0898053708994" x2="83.4" y2="892.0898053708994" stroke="#444" stroke-width="0.9" />
<line x1="81.60000000000001" y1="887.8450117946325" x2="83.4" y2="887.8450117946325" stroke="#444" stroke-width="0.9" />
<line x1="81.60000000000001" y1="884.5524941026837" x2="83.4" y2="884.5524941026837" stroke="#444" stroke-width="0.9" />
<line x1="81.60000000000001" y1="881.8623112682156" x2="83.4" y2="881.8623112682156" stroke="#444" stroke-width="0.9" />
<line x1="81.60000000000001" y1="879.5877940905156" x2="83.4" y2="879.5877940905156" stroke="#444" stroke-width="0.9" />
<line x1="81.60000000000001" y1="877.6175176919487" x2="83.4" y2="877.6175176919487" stroke="#444" stroke-width="0.9" />
<line x1="81.60000000000001" y1="875.8796107417988" x2="83.4" y2="875.8796107417988" stroke="#444" stroke-width="0.9" />
<line x1="80.4" y1="908.3" x2="83.4" y2="908.3" stroke="#333" stroke-width="1.1" />
<line x1="83.4" y1="908.3" x2="83.4" y2="911.3" stroke="#333" stroke-width="1.1" />
<line x1="94.38006909184372" y1="908.3" x2="94.38006909184372" y2="910.0999999999999" stroke="#444" stroke-width="0.9" />
<line x1="100.80299776589969" y1="908.3" x2="100.80299776589969" y2="910.0999999999999" stroke="#444" stroke-width="0.9" />
<line x1="105.36013818368744" y1="908.3" x2="105.36013818368744" y2="910.0999999999999" stroke="#444" stroke-width="0.9" />
<line x1="108.8949309081563" y1="908.3" x2="108.8949309081563" y2="910.0999999999999" stroke="#444" stroke-width="0.9" />
<line x1="111.7830668577434" y1="908.3" x2="111.7830668577434" y2="910.0999999999999" stroke="#444" stroke-width="0.9" />
<line x1="114.22495100952003" y1="908.3" x2="114.22495100952003" y2="910.0999999999999" stroke="#444" stroke-width="0.9" />
<line x1="116.34020727553116" y1="908.3" x2="116.34020727553116" y2="910.0999999999999" stroke="#444" stroke-width="0.9" />
<line x1="118.20599553179937" y1="908.3" x2="118.20599553179937" y2="910.0999999999999" stroke="#444" stroke-width="0.9" />
<line x1="119.875" y1="908.3" x2="119.875" y2="911.3" stroke="#333" stroke-width="1.1" />
<line x1="130.85506909184372" y1="908.3" x2="130.85506909184372" y2="910.0999999999999" stroke="#444" stroke-width="0.9" />
<line x1="137.2779977658997" y1="908.3" x2="137.2779977658997" y2="910.0999999999999" stroke="#444" stroke-width="0.9" />
<line x1="141.83513818368743" y1="908.3" x2="141.83513818368743" y2="910.0999999999999" stroke="#444" stroke-width="0.9" />
<line x1="145.36993090815628" y1="908.3" x2="145.36993090815628" y2="910.0999999999999" stroke="#444" stroke-width="0.9" />
<line x1="148.25806685774342" y1="908.3" x2="148.25806685774342" y2="910.0999999999999" stroke="#444" stroke-width="0.9" />
<line x1="150.69995100952002" y1="908.3" x2="150.69995100952002" y2="910.0999999999999" stroke="#444" stroke-width="0.9" />
<line x1="152.81520727553115" y1="908.3" x2="152.81520727553115" y2="910.0999999999999" stroke="#444" stroke-width="0.9" />
<line x1="154.68099553179937" y1="908.3" x2="154.68099553179937" y2="910.0999999999999" stroke="#444" stroke-width="0.9" />
<line x1="156.35000000000002" y1="908.3" x2="156.35000000000002" y2="911.3" stroke="#333" stroke-width="1.1" />
<line x1="167.33006909184374" y1="908.3" x2="167.33006909184374" y2="910.0999999999999" stroke="#444" stroke-width="0.9" />
<line x1="173.75299776589972" y1="908.3" x2="173.75299776589972" y2="910.0999999999999" stroke="#444" stroke-width="0.9" />
<line x1="178.31013818368746" y1="908.3" x2="178.31013818368746" y2="910.0999999999999" stroke="#444" stroke-width="0.9" />
<line x1="181.8449309081563" y1="908.3" x2="181.8449309081563" y2="910.0999999999999" stroke="#444" stroke-width="0.9" />
<line x1="184.73306685774344" y1="908.3" x2="184.73306685774344" y2="910.0999999999999" stroke="#444" stroke-width="0.9" />
<line x1="187.17495100952004" y1="908.3" x2="187.17495100952004" y2="910.0999999999999" stroke="#444" stroke-width="0.9" />
<line x1="189.29020727553117" y1="908.3" x2="189.29020727553117" y2="910.0999999999999" stroke="#444" stroke-width="0.9" />
<line x1="191.1559955317994" y1="908.3" x2="191.1559955317994" y2="910.0999999999999" stroke="#444" stroke-width="0.9" />
<line x1="192.82500000000002" y1="908.3" x2="192.82500000000002" y2="911.3" stroke="#333" stroke-width="1.1" />
<line x1="203.80506909184373" y1="908.3" x2="203.80506909184373" y2="910.0999999999999" stroke="#444" stroke-width="0.9" />
<line x1="210.22799776589972" y1="908.3" x2="210.22799776589972" y2="910.0999999999999" stroke="#444" stroke-width="0.9" />
<line x1="214.78513818368745" y1="908.3" x2="214.78513818368745" y2="910.0999999999999" stroke="#444" stroke-width="0.9" />
<line x1="218.3199309081563" y1="908.3" x2="218.3199309081563" y2="910.0999999999999" stroke="#444" stroke-width="0.9" />
<line x1="221.2080668577434" y1="908.3" x2="221.2080668577434" y2="910.0999999999999" stroke="#444" stroke-width="0.9" />
<line x1="223.64995100952004" y1="908.3" x2="223.64995100952004" y2="910.0999999999999" stroke="#444" stroke-width="0.9" />
<line x1="225.76520727553117" y1="908.3" x2="225.76520727553117" y2="910.0999999999999" stroke="#444" stroke-width="0.9" />
<line x1="227.63099553179939" y1="908.3" x2="227.63099553179939" y2="910.0999999999999" stroke="#444" stroke-width="0.9" />
<line x1="229.3" y1="908.3" x2="229.3" y2="911.3" stroke="#333" stroke-width="1.1" />
<text x="61.00" y="784.7" font-size="10" font-weight="bold" fill="#111" textLength="10.60" lengthAdjust="spacingAndGlyphs" stroke="#111" stroke-width="0.2" >10</text>
<text x="73.6" y="778.4" font-size="7.5" font-weight="bold" fill="#111" stroke="#111" stroke-width="0.15">4</text>
<text x="61.00" y="816.4" font-size="10" font-weight="bold" fill="#111" textLength="10.60" lengthAdjust="spacingAndGlyphs" stroke="#111" stroke-width="0.2" >10</text>
<text x="73.6" y="810.1" font-size="7.5" font-weight="bold" fill="#111" stroke="#111" stroke-width="0.15">3</text>
<text x="61.00" y="847.5" font-size="10" font-weight="bold" fill="#111" textLength="10.60" lengthAdjust="spacingAndGlyphs" stroke="#111" stroke-width="0.2" >10</text>
<text x="73.6" y="841.2" font-size="7.5" font-weight="bold" fill="#111" stroke="#111" stroke-width="0.15">2</text>
<text x="61.00" y="879" font-size="10" font-weight="bold" fill="#111" textLength="10.60" lengthAdjust="spacingAndGlyphs" stroke="#111" stroke-width="0.2" >10</text>
<text x="73.6" y="872.7" font-size="7.5" font-weight="bold" fill="#111" stroke="#111" stroke-width="0.15">1</text>
<text x="61.00" y="910.5" font-size="10" font-weight="bold" fill="#111" textLength="10.60" lengthAdjust="spacingAndGlyphs" stroke="#111" stroke-width="0.2" >10</text>
<text x="73.6" y="904.2" font-size="7.5" font-weight="bold" fill="#111" stroke="#111" stroke-width="0.15">0</text>
<text x="82.70" y="927.2" font-size="10.5" font-weight="bold" fill="#111" textLength="11.00" lengthAdjust="spacingAndGlyphs" stroke="#111" stroke-width="0.2" >10</text>
<text x="94.9" y="921.9" font-size="8.5" font-weight="bold" fill="#111" stroke="#111" stroke-width="0.15">0</text>
<text x="115.00" y="927.2" font-size="10.5" font-weight="bold" fill="#111" textLength="11.00" lengthAdjust="spacingAndGlyphs" stroke="#111" stroke-width="0.2" >10</text>
<text x="127.2" y="921.9" font-size="8.5" font-weight="bold" fill="#111" stroke="#111" stroke-width="0.15">1</text>
<text x="148.80" y="927.2" font-size="10.5" font-weight="bold" fill="#111" textLength="11.00" lengthAdjust="spacingAndGlyphs" stroke="#111" stroke-width="0.2" >10</text>
<text x="161.0" y="921.9" font-size="8.5" font-weight="bold" fill="#111" stroke="#111" stroke-width="0.15">2</text>
<text x="184.20" y="927.2" font-size="10.5" font-weight="bold" fill="#111" textLength="11.00" lengthAdjust="spacingAndGlyphs" stroke="#111" stroke-width="0.2" >10</text>
<text x="196.4" y="921.9" font-size="8.5" font-weight="bold" fill="#111" stroke="#111" stroke-width="0.15">3</text>
<text x="215.00" y="927.2" font-size="10.5" font-weight="bold" fill="#111" textLength="11.00" lengthAdjust="spacingAndGlyphs" stroke="#111" stroke-width="0.2" >10</text>
<text x="227.2" y="921.9" font-size="8.5" font-weight="bold" fill="#111" stroke="#111" stroke-width="0.15">4</text>
<ellipse cx="112.5" cy="797" rx="29" ry="18.5" fill="none" stroke="#741876" stroke-width="3"/>
<line x1="137.9" y1="785" x2="184.6" y2="780.8" stroke="#111" stroke-width="1.6" />
<text x="190.80" y="785.8" font-size="11.7" font-weight="bold" fill="#111" textLength="37.11" lengthAdjust="spacingAndGlyphs" stroke="#111" stroke-width="0.3" >17.0%</text>
<text x="171.50" y="765.3" font-size="12.9" font-weight="bold" fill="#111" textLength="63.30" lengthAdjust="spacingAndGlyphs" stroke="#111" stroke-width="0.3" >CNTO 530</text>
<defs><clipPath id="c3"><rect x="82.2" y="963.2" width="147.0" height="138.0"/></clipPath><filter id="f3" x="82.2" y="963.2" width="147.0" height="138.0" filterUnits="userSpaceOnUse" color-interpolation-filters="sRGB"><feGaussianBlur in="SourceAlpha" stdDeviation="2.5" result="d"/><feTurbulence type="fractalNoise" baseFrequency="1.7" numOctaves="2" seed="13" result="noise"/><feColorMatrix in="noise" type="matrix" values="0 0 0 0 0  0 0 0 0 0  0 0 0 0 0  1 0 0 0 0" result="nr"/><feComponentTransfer in="nr" result="u"><feFuncA type="table" tableValues="0.000 0.000 0.000 0.000 0.000 0.001 0.002 0.006 0.016 0.034 0.063 0.102 0.153 0.219 0.299 0.393 0.490 0.609 0.701 0.780 0.845 0.898 0.937 0.966 0.985 0.994 0.998 0.999 1.000 1.000 1.000 1.000 1.000"/></feComponentTransfer><feComposite in="d" in2="u" operator="arithmetic" k1="0" k2="6.6" k3="-6" k4="0" result="m"/><feFlood flood-color="#4a8fc5"/><feComposite in2="m" operator="in"/><feConvolveMatrix order="3" kernelMatrix="1 2 1 2 6 2 1 2 1" edgeMode="none"/></filter></defs>
<g clip-path="url(#c3)"><g filter="url(#f3)">
<rect x="82.2" y="963.2" width="147.0" height="138.0" fill="#fff" fill-opacity="0"/>
<ellipse cx="300.0" cy="800.0" rx="400" ry="800" fill="#000" fill-opacity="0.035" transform="rotate(0 300.0 800.0)"/>
<ellipse cx="110.0" cy="998.0" rx="28" ry="6.5" fill="#000" fill-opacity="0.72" transform="rotate(0 110.0 998.0)"/>
<ellipse cx="110.0" cy="998.0" rx="30" ry="10" fill="#000" fill-opacity="0.2" transform="rotate(0 110.0 998.0)"/>
<ellipse cx="170.0" cy="1010.0" rx="32" ry="24" fill="#000" fill-opacity="0.32" transform="rotate(-20 170.0 1010.0)"/>
<ellipse cx="176.0" cy="1013.0" rx="16" ry="11" fill="#000" fill-opacity="0.2" transform="rotate(0 176.0 1013.0)"/>
<ellipse cx="118.0" cy="1020.0" rx="34" ry="11" fill="#000" fill-opacity="0.15" transform="rotate(0 118.0 1020.0)"/>
<ellipse cx="152.0" cy="1035.0" rx="20" ry="12" fill="#000" fill-opacity="0.4" transform="rotate(-35 152.0 1035.0)"/>
<ellipse cx="121.0" cy="1056.0" rx="50" ry="40" fill="#000" fill-opacity="0.38" transform="rotate(-15 121.0 1056.0)"/>
<ellipse cx="115.0" cy="1059.0" rx="36" ry="29" fill="#000" fill-opacity="1" transform="rotate(-20 115.0 1059.0)"/>
<ellipse cx="90.0" cy="1059.0" rx="10" ry="22" fill="#000" fill-opacity="1" transform="rotate(0 90.0 1059.0)"/>
<ellipse cx="113.0" cy="1090.0" rx="20" ry="7" fill="#000" fill-opacity="0.45" transform="rotate(0 113.0 1090.0)"/>
<ellipse cx="182.0" cy="1062.0" rx="10" ry="13" fill="#000" fill-opacity="0.5" transform="rotate(0 182.0 1062.0)"/>
<ellipse cx="182.0" cy="1040.0" rx="9" ry="20" fill="#000" fill-opacity="0.22" transform="rotate(0 182.0 1040.0)"/>
<ellipse cx="160.0" cy="1072.0" rx="20" ry="15" fill="#000" fill-opacity="0.12" transform="rotate(0 160.0 1072.0)"/>
</g></g>
<rect x="82.2" y="963.2" width="147.0" height="138.0" fill="none" stroke="#666" stroke-width="1"/>
<line x1="79.2" y1="963.2" x2="82.2" y2="963.2" stroke="#333" stroke-width="1.1" />
<line x1="80.4" y1="987.3144651495927" x2="82.2" y2="987.3144651495927" stroke="#444" stroke-width="0.9" />
<line x1="80.4" y1="981.2393167121717" x2="82.2" y2="981.2393167121717" stroke="#444" stroke-width="0.9" />
<line x1="80.4" y1="976.9289302991854" x2="82.2" y2="976.9289302991854" stroke="#444" stroke-width="0.9" />
<line x1="80.4" y1="973.5855348504074" x2="82.2" y2="973.5855348504074" stroke="#444" stroke-width="0.9" />
<line x1="80.4" y1="970.8537818617643" x2="82.2" y2="970.8537818617643" stroke="#444" stroke-width="0.9" />
<line x1="80.4" y1="968.5441176195081" x2="82.2" y2="968.5441176195081" stroke="#444" stroke-width="0.9" />
<line x1="80.4" y1="966.543395448778" x2="82.2" y2="966.543395448778" stroke="#444" stroke-width="0.9" />
<line x1="80.4" y1="964.7786334243433" x2="82.2" y2="964.7786334243433" stroke="#444" stroke-width="0.9" />
<line x1="79.2" y1="997.7" x2="82.2" y2="997.7" stroke="#333" stroke-width="1.1" />
<line x1="80.4" y1="1021.8144651495927" x2="82.2" y2="1021.8144651495927" stroke="#444" stroke-width="0.9" />
<line x1="80.4" y1="1015.7393167121717" x2="82.2" y2="1015.7393167121717" stroke="#444" stroke-width="0.9" />
<line x1="80.4" y1="1011.4289302991854" x2="82.2" y2="1011.4289302991854" stroke="#444" stroke-width="0.9" />
<line x1="80.4" y1="1008.0855348504074" x2="82.2" y2="1008.0855348504074" stroke="#444" stroke-width="0.9" />
<line x1="80.4" y1="1005.3537818617643" x2="82.2" y2="1005.3537818617643" stroke="#444" stroke-width="0.9" />
<line x1="80.4" y1="1003.0441176195081" x2="82.2" y2="1003.0441176195081" stroke="#444" stroke-width="0.9" />
<line x1="80.4" y1="1001.043395448778" x2="82.2" y2="1001.043395448778" stroke="#444" stroke-width="0.9" />
<line x1="80.4" y1="999.2786334243433" x2="82.2" y2="999.2786334243433" stroke="#444" stroke-width="0.9" />
<line x1="79.2" y1="1032.2" x2="82.2" y2="1032.2" stroke="#333" stroke-width="1.1" />
<line x1="80.4" y1="1056.3144651495927" x2="82.2" y2="1056.3144651495927" stroke="#444" stroke-width="0.9" />
<line x1="80.4" y1="1050.2393167121718" x2="82.2" y2="1050.2393167121718" stroke="#444" stroke-width="0.9" />
<line x1="80.4" y1="1045.9289302991854" x2="82.2" y2="1045.9289302991854" stroke="#444" stroke-width="0.9" />
<line x1="80.4" y1="1042.5855348504074" x2="82.2" y2="1042.5855348504074" stroke="#444" stroke-width="0.9" />
<line x1="80.4" y1="1039.8537818617644" x2="82.2" y2="1039.8537818617644" stroke="#444" stroke-width="0.9" />
<line x1="80.4" y1="1037.5441176195081" x2="82.2" y2="1037.5441176195081" stroke="#444" stroke-width="0.9" />
<line x1="80.4" y1="1035.543395448778" x2="82.2" y2="1035.543395448778" stroke="#444" stroke-width="0.9" />
<line x1="80.4" y1="1033.7786334243433" x2="82.2" y2="1033.7786334243433" stroke="#444" stroke-width="0.9" />
<line x1="79.2" y1="1066.7" x2="82.2" y2="1066.7" stroke="#333" stroke-width="1.1" />
<line x1="80.4" y1="1090.8144651495927" x2="82.2" y2="1090.8144651495927" stroke="#444" stroke-width="0.9" />
<line x1="80.4" y1="1084.7393167121718" x2="82.2" y2="1084.7393167121718" stroke="#444" stroke-width="0.9" />
<line x1="80.4" y1="1080.4289302991854" x2="82.2" y2="1080.4289302991854" stroke="#444" stroke-width="0.9" />
<line x1="80.4" y1="1077.0855348504074" x2="82.2" y2="1077.0855348504074" stroke="#444" stroke-width="0.9" />
<line x1="80.4" y1="1074.3537818617644" x2="82.2" y2="1074.3537818617644" stroke="#444" stroke-width="0.9" />
<line x1="80.4" y1="1072.0441176195081" x2="82.2" y2="1072.0441176195081" stroke="#444" stroke-width="0.9" />
<line x1="80.4" y1="1070.043395448778" x2="82.2" y2="1070.043395448778" stroke="#444" stroke-width="0.9" />
<line x1="80.4" y1="1068.2786334243433" x2="82.2" y2="1068.2786334243433" stroke="#444" stroke-width="0.9" />
<line x1="79.2" y1="1101.2" x2="82.2" y2="1101.2" stroke="#333" stroke-width="1.1" />
<line x1="82.2" y1="1101.2" x2="82.2" y2="1104.2" stroke="#333" stroke-width="1.1" />
<line x1="93.2628523406513" y1="1101.2" x2="93.2628523406513" y2="1103.0" stroke="#444" stroke-width="0.9" />
<line x1="99.7342061109476" y1="1101.2" x2="99.7342061109476" y2="1103.0" stroke="#444" stroke-width="0.9" />
<line x1="104.32570468130262" y1="1101.2" x2="104.32570468130262" y2="1103.0" stroke="#444" stroke-width="0.9" />
<line x1="107.8871476593487" y1="1101.2" x2="107.8871476593487" y2="1103.0" stroke="#444" stroke-width="0.9" />
<line x1="110.7970584515989" y1="1101.2" x2="110.7970584515989" y2="1103.0" stroke="#444" stroke-width="0.9" />
<line x1="113.25735297052394" y1="1101.2" x2="113.25735297052394" y2="1103.0" stroke="#444" stroke-width="0.9" />
<line x1="115.38855702195393" y1="1101.2" x2="115.38855702195393" y2="1103.0" stroke="#444" stroke-width="0.9" />
<line x1="117.26841222189519" y1="1101.2" x2="117.26841222189519" y2="1103.0" stroke="#444" stroke-width="0.9" />
<line x1="118.95" y1="1101.2" x2="118.95" y2="1104.2" stroke="#333" stroke-width="1.1" />
<line x1="130.0128523406513" y1="1101.2" x2="130.0128523406513" y2="1103.0" stroke="#444" stroke-width="0.9" />
<line x1="136.48420611094758" y1="1101.2" x2="136.48420611094758" y2="1103.0" stroke="#444" stroke-width="0.9" />
<line x1="141.07570468130262" y1="1101.2" x2="141.07570468130262" y2="1103.0" stroke="#444" stroke-width="0.9" />
<line x1="144.6371476593487" y1="1101.2" x2="144.6371476593487" y2="1103.0" stroke="#444" stroke-width="0.9" />
<line x1="147.5470584515989" y1="1101.2" x2="147.5470584515989" y2="1103.0" stroke="#444" stroke-width="0.9" />
<line x1="150.00735297052393" y1="1101.2" x2="150.00735297052393" y2="1103.0" stroke="#444" stroke-width="0.9" />
<line x1="152.13855702195394" y1="1101.2" x2="152.13855702195394" y2="1103.0" stroke="#444" stroke-width="0.9" />
<line x1="154.01841222189518" y1="1101.2" x2="154.01841222189518" y2="1103.0" stroke="#444" stroke-width="0.9" />
<line x1="155.7" y1="1101.2" x2="155.7" y2="1104.2" stroke="#333" stroke-width="1.1" />
<line x1="166.7628523406513" y1="1101.2" x2="166.7628523406513" y2="1103.0" stroke="#444" stroke-width="0.9" />
<line x1="173.23420611094758" y1="1101.2" x2="173.23420611094758" y2="1103.0" stroke="#444" stroke-width="0.9" />
<line x1="177.8257046813026" y1="1101.2" x2="177.8257046813026" y2="1103.0" stroke="#444" stroke-width="0.9" />
<line x1="181.38714765934867" y1="1101.2" x2="181.38714765934867" y2="1103.0" stroke="#444" stroke-width="0.9" />
<line x1="184.2970584515989" y1="1101.2" x2="184.2970584515989" y2="1103.0" stroke="#444" stroke-width="0.9" />
<line x1="186.75735297052393" y1="1101.2" x2="186.75735297052393" y2="1103.0" stroke="#444" stroke-width="0.9" />
<line x1="188.88855702195391" y1="1101.2" x2="188.88855702195391" y2="1103.0" stroke="#444" stroke-width="0.9" />
<line x1="190.76841222189518" y1="1101.2" x2="190.76841222189518" y2="1103.0" stroke="#444" stroke-width="0.9" />
<line x1="192.45" y1="1101.2" x2="192.45" y2="1104.2" stroke="#333" stroke-width="1.1" />
<line x1="203.5128523406513" y1="1101.2" x2="203.5128523406513" y2="1103.0" stroke="#444" stroke-width="0.9" />
<line x1="209.98420611094758" y1="1101.2" x2="209.98420611094758" y2="1103.0" stroke="#444" stroke-width="0.9" />
<line x1="214.5757046813026" y1="1101.2" x2="214.5757046813026" y2="1103.0" stroke="#444" stroke-width="0.9" />
<line x1="218.13714765934867" y1="1101.2" x2="218.13714765934867" y2="1103.0" stroke="#444" stroke-width="0.9" />
<line x1="221.0470584515989" y1="1101.2" x2="221.0470584515989" y2="1103.0" stroke="#444" stroke-width="0.9" />
<line x1="223.50735297052393" y1="1101.2" x2="223.50735297052393" y2="1103.0" stroke="#444" stroke-width="0.9" />
<line x1="225.63855702195391" y1="1101.2" x2="225.63855702195391" y2="1103.0" stroke="#444" stroke-width="0.9" />
<line x1="227.51841222189518" y1="1101.2" x2="227.51841222189518" y2="1103.0" stroke="#444" stroke-width="0.9" />
<line x1="229.2" y1="1101.2" x2="229.2" y2="1104.2" stroke="#333" stroke-width="1.1" />
<text x="59.60" y="974" font-size="10" font-weight="bold" fill="#111" textLength="10.60" lengthAdjust="spacingAndGlyphs" stroke="#111" stroke-width="0.2" >10</text>
<text x="72.2" y="967.7" font-size="7.5" font-weight="bold" fill="#111" stroke="#111" stroke-width="0.15">4</text>
<text x="59.60" y="1005.8" font-size="10" font-weight="bold" fill="#111" textLength="10.60" lengthAdjust="spacingAndGlyphs" stroke="#111" stroke-width="0.2" >10</text>
<text x="72.2" y="999.5" font-size="7.5" font-weight="bold" fill="#111" stroke="#111" stroke-width="0.15">3</text>
<text x="59.60" y="1035.7" font-size="10" font-weight="bold" fill="#111" textLength="10.60" lengthAdjust="spacingAndGlyphs" stroke="#111" stroke-width="0.2" >10</text>
<text x="72.2" y="1029.4" font-size="7.5" font-weight="bold" fill="#111" stroke="#111" stroke-width="0.15">2</text>
<text x="59.60" y="1069.6" font-size="10" font-weight="bold" fill="#111" textLength="10.60" lengthAdjust="spacingAndGlyphs" stroke="#111" stroke-width="0.2" >10</text>
<text x="72.2" y="1063.3" font-size="7.5" font-weight="bold" fill="#111" stroke="#111" stroke-width="0.15">1</text>
<text x="59.60" y="1102.7" font-size="10" font-weight="bold" fill="#111" textLength="10.60" lengthAdjust="spacingAndGlyphs" stroke="#111" stroke-width="0.2" >10</text>
<text x="72.2" y="1096.4" font-size="7.5" font-weight="bold" fill="#111" stroke="#111" stroke-width="0.15">0</text>
<text x="81.20" y="1120.2" font-size="10.5" font-weight="bold" fill="#111" textLength="11.00" lengthAdjust="spacingAndGlyphs" stroke="#111" stroke-width="0.2" >10</text>
<text x="93.4" y="1114.9" font-size="8.5" font-weight="bold" fill="#111" stroke="#111" stroke-width="0.15">0</text>
<text x="113.50" y="1120.2" font-size="10.5" font-weight="bold" fill="#111" textLength="11.00" lengthAdjust="spacingAndGlyphs" stroke="#111" stroke-width="0.2" >10</text>
<text x="125.7" y="1114.9" font-size="8.5" font-weight="bold" fill="#111" stroke="#111" stroke-width="0.15">1</text>
<text x="148.80" y="1120.2" font-size="10.5" font-weight="bold" fill="#111" textLength="11.00" lengthAdjust="spacingAndGlyphs" stroke="#111" stroke-width="0.2" >10</text>
<text x="161.0" y="1114.9" font-size="8.5" font-weight="bold" fill="#111" stroke="#111" stroke-width="0.15">2</text>
<text x="182.70" y="1120.2" font-size="10.5" font-weight="bold" fill="#111" textLength="11.00" lengthAdjust="spacingAndGlyphs" stroke="#111" stroke-width="0.2" >10</text>
<text x="194.9" y="1114.9" font-size="8.5" font-weight="bold" fill="#111" stroke="#111" stroke-width="0.15">3</text>
<text x="212.80" y="1120.2" font-size="10.5" font-weight="bold" fill="#111" textLength="11.00" lengthAdjust="spacingAndGlyphs" stroke="#111" stroke-width="0.2" >10</text>
<text x="225.0" y="1114.9" font-size="8.5" font-weight="bold" fill="#111" stroke="#111" stroke-width="0.15">4</text>
<ellipse cx="109.5" cy="997.7" rx="29" ry="13.5" fill="none" stroke="#7d2b7f" stroke-width="1.5"/>
<line x1="137.9" y1="992.9" x2="186.5" y2="981.5" stroke="#111" stroke-width="1.6" />
<text x="191.40" y="983.7" font-size="12" font-weight="bold" fill="#111" textLength="29.20" lengthAdjust="spacingAndGlyphs" stroke="#111" stroke-width="0.3" >3.6%</text>
<text x="144.20" y="956.5" font-size="12.8" font-weight="bold" fill="#111" textLength="79.90" lengthAdjust="spacingAndGlyphs" stroke="#111" stroke-width="0.3" >Darbepoietin</text>
<defs><clipPath id="c4"><rect x="355.1" y="585.8" width="145.89999999999998" height="132.0"/></clipPath><filter id="f4" x="355.1" y="585.8" width="145.89999999999998" height="132.0" filterUnits="userSpaceOnUse" color-interpolation-filters="sRGB"><feGaussianBlur in="SourceAlpha" stdDeviation="2.5" result="d"/><feTurbulence type="fractalNoise" baseFrequency="1.7" numOctaves="2" seed="14" result="noise"/><feColorMatrix in="noise" type="matrix" values="0 0 0 0 0  0 0 0 0 0  0 0 0 0 0  1 0 0 0 0" result="nr"/><feComponentTransfer in="nr" result="u"><feFuncA type="table" tableValues="0.000 0.000 0.000 0.000 0.000 0.001 0.002 0.006 0.016 0.034 0.063 0.102 0.153 0.219 0.299 0.393 0.490 0.609 0.701 0.780 0.845 0.898 0.937 0.966 0.985 0.994 0.998 0.999 1.000 1.000 1.000 1.000 1.000"/></feComponentTransfer><feComposite in="d" in2="u" operator="arithmetic" k1="0" k2="6.6" k3="-6" k4="0" result="m"/><feFlood flood-color="#4a8fc5"/><feComposite in2="m" operator="in"/><feConvolveMatrix order="3" kernelMatrix="1 2 1 2 6 2 1 2 1" edgeMode="none"/></filter></defs>
<g clip-path="url(#c4)"><g filter="url(#f4)">
<rect x="355.1" y="585.8" width="145.89999999999998" height="132.0" fill="#fff" fill-opacity="0"/>
<ellipse cx="300.0" cy="800.0" rx="400" ry="800" fill="#000" fill-opacity="0.035" transform="rotate(0 300.0 800.0)"/>
<ellipse cx="385.0" cy="619.0" rx="28" ry="6.5" fill="#000" fill-opacity="0.62" transform="rotate(0 385.0 619.0)"/>
<ellipse cx="385.0" cy="619.0" rx="30" ry="10" fill="#000" fill-opacity="0.2" transform="rotate(0 385.0 619.0)"/>
<ellipse cx="435.0" cy="618.0" rx="28" ry="9" fill="#000" fill-opacity="0.22" transform="rotate(0 435.0 618.0)"/>
<ellipse cx="442.0" cy="637.0" rx="32" ry="28" fill="#000" fill-opacity="0.3" transform="rotate(-25 442.0 637.0)"/>
<ellipse cx="445.0" cy="642.0" rx="16" ry="12" fill="#000" fill-opacity="0.2" transform="rotate(-25 445.0 642.0)"/>
<ellipse cx="390.0" cy="640.0" rx="34" ry="11" fill="#000" fill-opacity="0.15" transform="rotate(0 390.0 640.0)"/>
<ellipse cx="424.0" cy="652.0" rx="20" ry="10" fill="#000" fill-opacity="0.38" transform="rotate(-35 424.0 652.0)"/>
<ellipse cx="394.0" cy="676.0" rx="52" ry="38" fill="#000" fill-opacity="0.35" transform="rotate(-15 394.0 676.0)"/>
<ellipse cx="391.0" cy="678.5" rx="38" ry="28" fill="#000" fill-opacity="1" transform="rotate(-10 391.0 678.5)"/>
<ellipse cx="410.0" cy="669.0" rx="20" ry="13" fill="#000" fill-opacity="1" transform="rotate(-20 410.0 669.0)"/>
<ellipse cx="363.0" cy="680.0" rx="12" ry="25" fill="#000" fill-opacity="1" transform="rotate(0 363.0 680.0)"/>
<ellipse cx="384.0" cy="706.0" rx="22" ry="7" fill="#000" fill-opacity="0.45" transform="rotate(0 384.0 706.0)"/>
<ellipse cx="455.0" cy="681.0" rx="10" ry="13" fill="#000" fill-opacity="0.55" transform="rotate(0 455.0 681.0)"/>
<ellipse cx="435.0" cy="692.0" rx="20" ry="15" fill="#000" fill-opacity="0.12" transform="rotate(0 435.0 692.0)"/>
</g></g>
<rect x="355.1" y="585.8" width="145.89999999999998" height="132.0" fill="none" stroke="#666" stroke-width="1"/>
<line x1="352.1" y1="585.8" x2="355.1" y2="585.8" stroke="#333" stroke-width="1.1" />
<line x1="353.3" y1="608.8660101430886" x2="355.1" y2="608.8660101430886" stroke="#444" stroke-width="0.9" />
<line x1="353.3" y1="603.0549985942511" x2="355.1" y2="603.0549985942511" stroke="#444" stroke-width="0.9" />
<line x1="353.3" y1="598.9320202861772" x2="355.1" y2="598.9320202861772" stroke="#444" stroke-width="0.9" />
<line x1="353.3" y1="595.7339898569113" x2="355.1" y2="595.7339898569113" stroke="#444" stroke-width="0.9" />
<line x1="353.3" y1="593.1210087373397" x2="355.1" y2="593.1210087373397" stroke="#444" stroke-width="0.9" />
<line x1="353.3" y1="590.9117646795295" x2="355.1" y2="590.9117646795295" stroke="#444" stroke-width="0.9" />
<line x1="353.3" y1="588.9980304292658" x2="355.1" y2="588.9980304292658" stroke="#444" stroke-width="0.9" />
<line x1="353.3" y1="587.3099971885023" x2="355.1" y2="587.3099971885023" stroke="#444" stroke-width="0.9" />
<line x1="352.1" y1="618.8" x2="355.1" y2="618.8" stroke="#333" stroke-width="1.1" />
<line x1="353.3" y1="641.8660101430886" x2="355.1" y2="641.8660101430886" stroke="#444" stroke-width="0.9" />
<line x1="353.3" y1="636.0549985942511" x2="355.1" y2="636.0549985942511" stroke="#444" stroke-width="0.9" />
<line x1="353.3" y1="631.9320202861772" x2="355.1" y2="631.9320202861772" stroke="#444" stroke-width="0.9" />
<line x1="353.3" y1="628.7339898569113" x2="355.1" y2="628.7339898569113" stroke="#444" stroke-width="0.9" />
<line x1="353.3" y1="626.1210087373397" x2="355.1" y2="626.1210087373397" stroke="#444" stroke-width="0.9" />
<line x1="353.3" y1="623.9117646795295" x2="355.1" y2="623.9117646795295" stroke="#444" stroke-width="0.9" />
<line x1="353.3" y1="621.9980304292658" x2="355.1" y2="621.9980304292658" stroke="#444" stroke-width="0.9" />
<line x1="353.3" y1="620.3099971885023" x2="355.1" y2="620.3099971885023" stroke="#444" stroke-width="0.9" />
<line x1="352.1" y1="651.8" x2="355.1" y2="651.8" stroke="#333" stroke-width="1.1" />
<line x1="353.3" y1="674.8660101430886" x2="355.1" y2="674.8660101430886" stroke="#444" stroke-width="0.9" />
<line x1="353.3" y1="669.0549985942511" x2="355.1" y2="669.0549985942511" stroke="#444" stroke-width="0.9" />
<line x1="353.3" y1="664.9320202861772" x2="355.1" y2="664.9320202861772" stroke="#444" stroke-width="0.9" />
<line x1="353.3" y1="661.7339898569113" x2="355.1" y2="661.7339898569113" stroke="#444" stroke-width="0.9" />
<line x1="353.3" y1="659.1210087373397" x2="355.1" y2="659.1210087373397" stroke="#444" stroke-width="0.9" />
<line x1="353.3" y1="656.9117646795295" x2="355.1" y2="656.9117646795295" stroke="#444" stroke-width="0.9" />
<line x1="353.3" y1="654.9980304292658" x2="355.1" y2="654.9980304292658" stroke="#444" stroke-width="0.9" />
<line x1="353.3" y1="653.3099971885023" x2="355.1" y2="653.3099971885023" stroke="#444" stroke-width="0.9" />
<line x1="352.1" y1="684.8" x2="355.1" y2="684.8" stroke="#333" stroke-width="1.1" />
<line x1="353.3" y1="707.8660101430886" x2="355.1" y2="707.8660101430886" stroke="#444" stroke-width="0.9" />
<line x1="353.3" y1="702.0549985942511" x2="355.1" y2="702.0549985942511" stroke="#444" stroke-width="0.9" />
<line x1="353.3" y1="697.9320202861772" x2="355.1" y2="697.9320202861772" stroke="#444" stroke-width="0.9" />
<line x1="353.3" y1="694.7339898569113" x2="355.1" y2="694.7339898569113" stroke="#444" stroke-width="0.9" />
<line x1="353.3" y1="692.1210087373397" x2="355.1" y2="692.1210087373397" stroke="#444" stroke-width="0.9" />
<line x1="353.3" y1="689.9117646795295" x2="355.1" y2="689.9117646795295" stroke="#444" stroke-width="0.9" />
<line x1="353.3" y1="687.9980304292658" x2="355.1" y2="687.9980304292658" stroke="#444" stroke-width="0.9" />
<line x1="353.3" y1="686.3099971885023" x2="355.1" y2="686.3099971885023" stroke="#444" stroke-width="0.9" />
<line x1="352.1" y1="717.8" x2="355.1" y2="717.8" stroke="#333" stroke-width="1.1" />
<line x1="355.1" y1="717.8" x2="355.1" y2="720.8" stroke="#333" stroke-width="1.1" />
<line x1="366.0800690918437" y1="717.8" x2="366.0800690918437" y2="719.5999999999999" stroke="#444" stroke-width="0.9" />
<line x1="372.5029977658997" y1="717.8" x2="372.5029977658997" y2="719.5999999999999" stroke="#444" stroke-width="0.9" />
<line x1="377.06013818368746" y1="717.8" x2="377.06013818368746" y2="719.5999999999999" stroke="#444" stroke-width="0.9" />
<line x1="380.5949309081563" y1="717.8" x2="380.5949309081563" y2="719.5999999999999" stroke="#444" stroke-width="0.9" />
<line x1="383.48306685774344" y1="717.8" x2="383.48306685774344" y2="719.5999999999999" stroke="#444" stroke-width="0.9" />
<line x1="385.92495100952004" y1="717.8" x2="385.92495100952004" y2="719.5999999999999" stroke="#444" stroke-width="0.9" />
<line x1="388.04020727553115" y1="717.8" x2="388.04020727553115" y2="719.5999999999999" stroke="#444" stroke-width="0.9" />
<line x1="389.90599553179936" y1="717.8" x2="389.90599553179936" y2="719.5999999999999" stroke="#444" stroke-width="0.9" />
<line x1="391.57500000000005" y1="717.8" x2="391.57500000000005" y2="720.8" stroke="#333" stroke-width="1.1" />
<line x1="402.55506909184373" y1="717.8" x2="402.55506909184373" y2="719.5999999999999" stroke="#444" stroke-width="0.9" />
<line x1="408.9779977658997" y1="717.8" x2="408.9779977658997" y2="719.5999999999999" stroke="#444" stroke-width="0.9" />
<line x1="413.5351381836875" y1="717.8" x2="413.5351381836875" y2="719.5999999999999" stroke="#444" stroke-width="0.9" />
<line x1="417.0699309081563" y1="717.8" x2="417.0699309081563" y2="719.5999999999999" stroke="#444" stroke-width="0.9" />
<line x1="419.95806685774346" y1="717.8" x2="419.95806685774346" y2="719.5999999999999" stroke="#444" stroke-width="0.9" />
<line x1="422.39995100952007" y1="717.8" x2="422.39995100952007" y2="719.5999999999999" stroke="#444" stroke-width="0.9" />
<line x1="424.51520727553117" y1="717.8" x2="424.51520727553117" y2="719.5999999999999" stroke="#444" stroke-width="0.9" />
<line x1="426.3809955317994" y1="717.8" x2="426.3809955317994" y2="719.5999999999999" stroke="#444" stroke-width="0.9" />
<line x1="428.05" y1="717.8" x2="428.05" y2="720.8" stroke="#333" stroke-width="1.1" />
<line x1="439.0300690918437" y1="717.8" x2="439.0300690918437" y2="719.5999999999999" stroke="#444" stroke-width="0.9" />
<line x1="445.4529977658997" y1="717.8" x2="445.4529977658997" y2="719.5999999999999" stroke="#444" stroke-width="0.9" />
<line x1="450.01013818368745" y1="717.8" x2="450.01013818368745" y2="719.5999999999999" stroke="#444" stroke-width="0.9" />
<line x1="453.5449309081563" y1="717.8" x2="453.5449309081563" y2="719.5999999999999" stroke="#444" stroke-width="0.9" />
<line x1="456.4330668577434" y1="717.8" x2="456.4330668577434" y2="719.5999999999999" stroke="#444" stroke-width="0.9" />
<line x1="458.87495100952003" y1="717.8" x2="458.87495100952003" y2="719.5999999999999" stroke="#444" stroke-width="0.9" />
<line x1="460.99020727553113" y1="717.8" x2="460.99020727553113" y2="719.5999999999999" stroke="#444" stroke-width="0.9" />
<line x1="462.8559955317994" y1="717.8" x2="462.8559955317994" y2="719.5999999999999" stroke="#444" stroke-width="0.9" />
<line x1="464.525" y1="717.8" x2="464.525" y2="720.8" stroke="#333" stroke-width="1.1" />
<line x1="475.50506909184367" y1="717.8" x2="475.50506909184367" y2="719.5999999999999" stroke="#444" stroke-width="0.9" />
<line x1="481.92799776589965" y1="717.8" x2="481.92799776589965" y2="719.5999999999999" stroke="#444" stroke-width="0.9" />
<line x1="486.4851381836874" y1="717.8" x2="486.4851381836874" y2="719.5999999999999" stroke="#444" stroke-width="0.9" />
<line x1="490.01993090815625" y1="717.8" x2="490.01993090815625" y2="719.5999999999999" stroke="#444" stroke-width="0.9" />
<line x1="492.9080668577434" y1="717.8" x2="492.9080668577434" y2="719.5999999999999" stroke="#444" stroke-width="0.9" />
<line x1="495.34995100952" y1="717.8" x2="495.34995100952" y2="719.5999999999999" stroke="#444" stroke-width="0.9" />
<line x1="497.4652072755311" y1="717.8" x2="497.4652072755311" y2="719.5999999999999" stroke="#444" stroke-width="0.9" />
<line x1="499.3309955317993" y1="717.8" x2="499.3309955317993" y2="719.5999999999999" stroke="#444" stroke-width="0.9" />
<line x1="501.0" y1="717.8" x2="501.0" y2="720.8" stroke="#333" stroke-width="1.1" />
<text x="335.60" y="594.8" font-size="10" font-weight="bold" fill="#111" textLength="10.60" lengthAdjust="spacingAndGlyphs" stroke="#111" stroke-width="0.2" >10</text>
<text x="348.2" y="588.5" font-size="7.5" font-weight="bold" fill="#111" stroke="#111" stroke-width="0.15">4</text>
<text x="335.60" y="627.1" font-size="10" font-weight="bold" fill="#111" textLength="10.60" lengthAdjust="spacingAndGlyphs" stroke="#111" stroke-width="0.2" >10</text>
<text x="348.2" y="620.8" font-size="7.5" font-weight="bold" fill="#111" stroke="#111" stroke-width="0.15">3</text>
<text x="335.60" y="656" font-size="10" font-weight="bold" fill="#111" textLength="10.60" lengthAdjust="spacingAndGlyphs" stroke="#111" stroke-width="0.2" >10</text>
<text x="348.2" y="649.7" font-size="7.5" font-weight="bold" fill="#111" stroke="#111" stroke-width="0.15">2</text>
<text x="335.60" y="690.5" font-size="10" font-weight="bold" fill="#111" textLength="10.60" lengthAdjust="spacingAndGlyphs" stroke="#111" stroke-width="0.2" >10</text>
<text x="348.2" y="684.2" font-size="7.5" font-weight="bold" fill="#111" stroke="#111" stroke-width="0.15">1</text>
<text x="335.60" y="721.5" font-size="10" font-weight="bold" fill="#111" textLength="10.60" lengthAdjust="spacingAndGlyphs" stroke="#111" stroke-width="0.2" >10</text>
<text x="348.2" y="715.2" font-size="7.5" font-weight="bold" fill="#111" stroke="#111" stroke-width="0.15">0</text>
<text x="351.80" y="733.5" font-size="10.5" font-weight="bold" fill="#111" textLength="11.00" lengthAdjust="spacingAndGlyphs" stroke="#111" stroke-width="0.2" >10</text>
<text x="364.0" y="728.2" font-size="8.5" font-weight="bold" fill="#111" stroke="#111" stroke-width="0.15">0</text>
<text x="388.00" y="733.5" font-size="10.5" font-weight="bold" fill="#111" textLength="11.00" lengthAdjust="spacingAndGlyphs" stroke="#111" stroke-width="0.2" >10</text>
<text x="400.2" y="728.2" font-size="8.5" font-weight="bold" fill="#111" stroke="#111" stroke-width="0.15">1</text>
<text x="421.90" y="733.5" font-size="10.5" font-weight="bold" fill="#111" textLength="11.00" lengthAdjust="spacingAndGlyphs" stroke="#111" stroke-width="0.2" >10</text>
<text x="434.1" y="728.2" font-size="8.5" font-weight="bold" fill="#111" stroke="#111" stroke-width="0.15">2</text>
<text x="457.30" y="733.5" font-size="10.5" font-weight="bold" fill="#111" textLength="11.00" lengthAdjust="spacingAndGlyphs" stroke="#111" stroke-width="0.2" >10</text>
<text x="469.5" y="728.2" font-size="8.5" font-weight="bold" fill="#111" stroke="#111" stroke-width="0.15">3</text>
<text x="488.00" y="733.5" font-size="10.5" font-weight="bold" fill="#111" textLength="11.00" lengthAdjust="spacingAndGlyphs" stroke="#111" stroke-width="0.2" >10</text>
<text x="500.2" y="728.2" font-size="8.5" font-weight="bold" fill="#111" stroke="#111" stroke-width="0.15">4</text>
<ellipse cx="384.2" cy="618.3" rx="28.5" ry="13.2" fill="none" stroke="#7d2b7f" stroke-width="1.5"/>
<line x1="405" y1="606.2" x2="456.8" y2="598.4" stroke="#111" stroke-width="1.6" />
<text x="462.90" y="601.2" font-size="11.3" font-weight="bold" fill="#111" textLength="29.10" lengthAdjust="spacingAndGlyphs" stroke="#111" stroke-width="0.3" >1.6%</text>
<text x="459.00" y="581" font-size="12.3" font-weight="bold" fill="#111" textLength="38.20" lengthAdjust="spacingAndGlyphs" stroke="#111" stroke-width="0.3" >Saline</text>
<defs><clipPath id="c5"><rect x="354.5" y="775.2" width="146.8" height="134.19999999999993"/></clipPath><filter id="f5" x="354.5" y="775.2" width="146.8" height="134.19999999999993" filterUnits="userSpaceOnUse" color-interpolation-filters="sRGB"><feGaussianBlur in="SourceAlpha" stdDeviation="2.5" result="d"/><feTurbulence type="fractalNoise" baseFrequency="1.7" numOctaves="2" seed="15" result="noise"/><feColorMatrix in="noise" type="matrix" values="0 0 0 0 0  0 0 0 0 0  0 0 0 0 0  1 0 0 0 0" result="nr"/><feComponentTransfer in="nr" result="u"><feFuncA type="table" tableValues="0.000 0.000 0.000 0.000 0.000 0.001 0.002 0.006 0.016 0.034 0.063 0.102 0.153 0.219 0.299 0.393 0.490 0.609 0.701 0.780 0.845 0.898 0.937 0.966 0.985 0.994 0.998 0.999 1.000 1.000 1.000 1.000 1.000"/></feComponentTransfer><feComposite in="d" in2="u" operator="arithmetic" k1="0" k2="6.6" k3="-6" k4="0" result="m"/><feFlood flood-color="#4a8fc5"/><feComposite in2="m" operator="in"/><feConvolveMatrix order="3" kernelMatrix="1 2 1 2 6 2 1 2 1" edgeMode="none"/></filter></defs>
<g clip-path="url(#c5)"><g filter="url(#f5)">
<rect x="354.5" y="775.2" width="146.8" height="134.19999999999993" fill="#fff" fill-opacity="0"/>
<ellipse cx="300.0" cy="800.0" rx="400" ry="800" fill="#000" fill-opacity="0.035" transform="rotate(0 300.0 800.0)"/>
<ellipse cx="377.0" cy="802.0" rx="27" ry="11.5" fill="#000" fill-opacity="1" transform="rotate(0 377.0 802.0)"/>
<ellipse cx="382.0" cy="801.5" rx="32" ry="13" fill="#000" fill-opacity="0.3" transform="rotate(0 382.0 801.5)"/>
<ellipse cx="435.0" cy="803.0" rx="35" ry="7" fill="#000" fill-opacity="0.42" transform="rotate(0 435.0 803.0)"/>
<ellipse cx="455.0" cy="803.0" rx="13" ry="7" fill="#000" fill-opacity="0.3" transform="rotate(0 455.0 803.0)"/>
<ellipse cx="450.0" cy="833.0" rx="12" ry="30" fill="#000" fill-opacity="0.2" transform="rotate(0 450.0 833.0)"/>
<ellipse cx="440.0" cy="838.0" rx="25" ry="25" fill="#000" fill-opacity="0.15" transform="rotate(0 440.0 838.0)"/>
<ellipse cx="390.0" cy="826.0" rx="35" ry="12" fill="#000" fill-opacity="0.15" transform="rotate(0 390.0 826.0)"/>
<ellipse cx="420.0" cy="845.0" rx="18" ry="12" fill="#000" fill-opacity="0.3" transform="rotate(-35 420.0 845.0)"/>
<ellipse cx="390.0" cy="862.0" rx="46" ry="38" fill="#000" fill-opacity="0.35" transform="rotate(-15 390.0 862.0)"/>
<ellipse cx="388.0" cy="865.0" rx="35" ry="27.5" fill="#000" fill-opacity="1" transform="rotate(-15 388.0 865.0)"/>
<ellipse cx="362.0" cy="865.0" rx="10" ry="22" fill="#000" fill-opacity="1" transform="rotate(0 362.0 865.0)"/>
<ellipse cx="386.0" cy="893.0" rx="18" ry="7" fill="#000" fill-opacity="0.5" transform="rotate(0 386.0 893.0)"/>
<ellipse cx="456.0" cy="870.0" rx="9" ry="13" fill="#000" fill-opacity="0.55" transform="rotate(0 456.0 870.0)"/>
<ellipse cx="435.0" cy="880.0" rx="20" ry="15" fill="#000" fill-opacity="0.12" transform="rotate(0 435.0 880.0)"/>
</g></g>
<rect x="354.5" y="775.2" width="146.8" height="134.19999999999993" fill="none" stroke="#666" stroke-width="1"/>
<line x1="351.5" y1="775.2" x2="354.5" y2="775.2" stroke="#333" stroke-width="1.1" />
<line x1="352.7" y1="798.6504436454734" x2="354.5" y2="798.6504436454734" stroke="#444" stroke-width="0.9" />
<line x1="352.7" y1="792.7425819041554" x2="354.5" y2="792.7425819041554" stroke="#444" stroke-width="0.9" />
<line x1="352.7" y1="788.5508872909469" x2="354.5" y2="788.5508872909469" stroke="#444" stroke-width="0.9" />
<line x1="352.7" y1="785.2995563545265" x2="354.5" y2="785.2995563545265" stroke="#444" stroke-width="0.9" />
<line x1="352.7" y1="782.6430255496288" x2="354.5" y2="782.6430255496288" stroke="#444" stroke-width="0.9" />
<line x1="352.7" y1="780.3969607575217" x2="354.5" y2="780.3969607575217" stroke="#444" stroke-width="0.9" />
<line x1="352.7" y1="778.4513309364203" x2="354.5" y2="778.4513309364203" stroke="#444" stroke-width="0.9" />
<line x1="352.7" y1="776.7351638083106" x2="354.5" y2="776.7351638083106" stroke="#444" stroke-width="0.9" />
<line x1="351.5" y1="808.75" x2="354.5" y2="808.75" stroke="#333" stroke-width="1.1" />
<line x1="352.7" y1="832.2004436454733" x2="354.5" y2="832.2004436454733" stroke="#444" stroke-width="0.9" />
<line x1="352.7" y1="826.2925819041553" x2="354.5" y2="826.2925819041553" stroke="#444" stroke-width="0.9" />
<line x1="352.7" y1="822.1008872909468" x2="354.5" y2="822.1008872909468" stroke="#444" stroke-width="0.9" />
<line x1="352.7" y1="818.8495563545265" x2="354.5" y2="818.8495563545265" stroke="#444" stroke-width="0.9" />
<line x1="352.7" y1="816.1930255496287" x2="354.5" y2="816.1930255496287" stroke="#444" stroke-width="0.9" />
<line x1="352.7" y1="813.9469607575217" x2="354.5" y2="813.9469607575217" stroke="#444" stroke-width="0.9" />
<line x1="352.7" y1="812.0013309364202" x2="354.5" y2="812.0013309364202" stroke="#444" stroke-width="0.9" />
<line x1="352.7" y1="810.2851638083106" x2="354.5" y2="810.2851638083106" stroke="#444" stroke-width="0.9" />
<line x1="351.5" y1="842.3" x2="354.5" y2="842.3" stroke="#333" stroke-width="1.1" />
<line x1="352.7" y1="865.7504436454734" x2="354.5" y2="865.7504436454734" stroke="#444" stroke-width="0.9" />
<line x1="352.7" y1="859.8425819041554" x2="354.5" y2="859.8425819041554" stroke="#444" stroke-width="0.9" />
<line x1="352.7" y1="855.6508872909469" x2="354.5" y2="855.6508872909469" stroke="#444" stroke-width="0.9" />
<line x1="352.7" y1="852.3995563545266" x2="354.5" y2="852.3995563545266" stroke="#444" stroke-width="0.9" />
<line x1="352.7" y1="849.7430255496288" x2="354.5" y2="849.7430255496288" stroke="#444" stroke-width="0.9" />
<line x1="352.7" y1="847.4969607575217" x2="354.5" y2="847.4969607575217" stroke="#444" stroke-width="0.9" />
<line x1="352.7" y1="845.5513309364203" x2="354.5" y2="845.5513309364203" stroke="#444" stroke-width="0.9" />
<line x1="352.7" y1="843.8351638083107" x2="354.5" y2="843.8351638083107" stroke="#444" stroke-width="0.9" />
<line x1="351.5" y1="875.85" x2="354.5" y2="875.85" stroke="#333" stroke-width="1.1" />
<line x1="352.7" y1="899.3004436454734" x2="354.5" y2="899.3004436454734" stroke="#444" stroke-width="0.9" />
<line x1="352.7" y1="893.3925819041553" x2="354.5" y2="893.3925819041553" stroke="#444" stroke-width="0.9" />
<line x1="352.7" y1="889.2008872909469" x2="354.5" y2="889.2008872909469" stroke="#444" stroke-width="0.9" />
<line x1="352.7" y1="885.9495563545265" x2="354.5" y2="885.9495563545265" stroke="#444" stroke-width="0.9" />
<line x1="352.7" y1="883.2930255496287" x2="354.5" y2="883.2930255496287" stroke="#444" stroke-width="0.9" />
<line x1="352.7" y1="881.0469607575217" x2="354.5" y2="881.0469607575217" stroke="#444" stroke-width="0.9" />
<line x1="352.7" y1="879.1013309364203" x2="354.5" y2="879.1013309364203" stroke="#444" stroke-width="0.9" />
<line x1="352.7" y1="877.3851638083106" x2="354.5" y2="877.3851638083106" stroke="#444" stroke-width="0.9" />
<line x1="351.5" y1="909.4" x2="354.5" y2="909.4" stroke="#333" stroke-width="1.1" />
<line x1="354.5" y1="909.4" x2="354.5" y2="912.4" stroke="#333" stroke-width="1.1" />
<line x1="365.5478008408681" y1="909.4" x2="365.5478008408681" y2="911.1999999999999" stroke="#444" stroke-width="0.9" />
<line x1="372.0103500482116" y1="909.4" x2="372.0103500482116" y2="911.1999999999999" stroke="#444" stroke-width="0.9" />
<line x1="376.59560168173624" y1="909.4" x2="376.59560168173624" y2="911.1999999999999" stroke="#444" stroke-width="0.9" />
<line x1="380.1521991591319" y1="909.4" x2="380.1521991591319" y2="911.1999999999999" stroke="#444" stroke-width="0.9" />
<line x1="383.05815088907974" y1="909.4" x2="383.05815088907974" y2="911.1999999999999" stroke="#444" stroke-width="0.9" />
<line x1="385.51509806852323" y1="909.4" x2="385.51509806852323" y2="911.1999999999999" stroke="#444" stroke-width="0.9" />
<line x1="387.64340252260433" y1="909.4" x2="387.64340252260433" y2="911.1999999999999" stroke="#444" stroke-width="0.9" />
<line x1="389.52070009642324" y1="909.4" x2="389.52070009642324" y2="911.1999999999999" stroke="#444" stroke-width="0.9" />
<line x1="391.2" y1="909.4" x2="391.2" y2="912.4" stroke="#333" stroke-width="1.1" />
<line x1="402.2478008408681" y1="909.4" x2="402.2478008408681" y2="911.1999999999999" stroke="#444" stroke-width="0.9" />
<line x1="408.7103500482116" y1="909.4" x2="408.7103500482116" y2="911.1999999999999" stroke="#444" stroke-width="0.9" />
<line x1="413.29560168173623" y1="909.4" x2="413.29560168173623" y2="911.1999999999999" stroke="#444" stroke-width="0.9" />
<line x1="416.8521991591319" y1="909.4" x2="416.8521991591319" y2="911.1999999999999" stroke="#444" stroke-width="0.9" />
<line x1="419.75815088907973" y1="909.4" x2="419.75815088907973" y2="911.1999999999999" stroke="#444" stroke-width="0.9" />
<line x1="422.2150980685232" y1="909.4" x2="422.2150980685232" y2="911.1999999999999" stroke="#444" stroke-width="0.9" />
<line x1="424.3434025226043" y1="909.4" x2="424.3434025226043" y2="911.1999999999999" stroke="#444" stroke-width="0.9" />
<line x1="426.22070009642323" y1="909.4" x2="426.22070009642323" y2="911.1999999999999" stroke="#444" stroke-width="0.9" />
<line x1="427.9" y1="909.4" x2="427.9" y2="912.4" stroke="#333" stroke-width="1.1" />
<line x1="438.94780084086807" y1="909.4" x2="438.94780084086807" y2="911.1999999999999" stroke="#444" stroke-width="0.9" />
<line x1="445.41035004821157" y1="909.4" x2="445.41035004821157" y2="911.1999999999999" stroke="#444" stroke-width="0.9" />
<line x1="449.9956016817362" y1="909.4" x2="449.9956016817362" y2="911.1999999999999" stroke="#444" stroke-width="0.9" />
<line x1="453.5521991591319" y1="909.4" x2="453.5521991591319" y2="911.1999999999999" stroke="#444" stroke-width="0.9" />
<line x1="456.4581508890797" y1="909.4" x2="456.4581508890797" y2="911.1999999999999" stroke="#444" stroke-width="0.9" />
<line x1="458.9150980685232" y1="909.4" x2="458.9150980685232" y2="911.1999999999999" stroke="#444" stroke-width="0.9" />
<line x1="461.0434025226043" y1="909.4" x2="461.0434025226043" y2="911.1999999999999" stroke="#444" stroke-width="0.9" />
<line x1="462.9207000964232" y1="909.4" x2="462.9207000964232" y2="911.1999999999999" stroke="#444" stroke-width="0.9" />
<line x1="464.6" y1="909.4" x2="464.6" y2="912.4" stroke="#333" stroke-width="1.1" />
<line x1="475.6478008408681" y1="909.4" x2="475.6478008408681" y2="911.1999999999999" stroke="#444" stroke-width="0.9" />
<line x1="482.1103500482116" y1="909.4" x2="482.1103500482116" y2="911.1999999999999" stroke="#444" stroke-width="0.9" />
<line x1="486.69560168173626" y1="909.4" x2="486.69560168173626" y2="911.1999999999999" stroke="#444" stroke-width="0.9" />
<line x1="490.2521991591319" y1="909.4" x2="490.2521991591319" y2="911.1999999999999" stroke="#444" stroke-width="0.9" />
<line x1="493.15815088907976" y1="909.4" x2="493.15815088907976" y2="911.1999999999999" stroke="#444" stroke-width="0.9" />
<line x1="495.61509806852325" y1="909.4" x2="495.61509806852325" y2="911.1999999999999" stroke="#444" stroke-width="0.9" />
<line x1="497.74340252260436" y1="909.4" x2="497.74340252260436" y2="911.1999999999999" stroke="#444" stroke-width="0.9" />
<line x1="499.62070009642326" y1="909.4" x2="499.62070009642326" y2="911.1999999999999" stroke="#444" stroke-width="0.9" />
<line x1="501.3" y1="909.4" x2="501.3" y2="912.4" stroke="#333" stroke-width="1.1" />
<text x="334.30" y="784.5" font-size="10" font-weight="bold" fill="#111" textLength="10.60" lengthAdjust="spacingAndGlyphs" stroke="#111" stroke-width="0.2" >10</text>
<text x="346.9" y="778.2" font-size="7.5" font-weight="bold" fill="#111" stroke="#111" stroke-width="0.15">4</text>
<text x="334.30" y="816.5" font-size="10" font-weight="bold" fill="#111" textLength="10.60" lengthAdjust="spacingAndGlyphs" stroke="#111" stroke-width="0.2" >10</text>
<text x="346.9" y="810.2" font-size="7.5" font-weight="bold" fill="#111" stroke="#111" stroke-width="0.15">3</text>
<text x="334.30" y="846" font-size="10" font-weight="bold" fill="#111" textLength="10.60" lengthAdjust="spacingAndGlyphs" stroke="#111" stroke-width="0.2" >10</text>
<text x="346.9" y="839.7" font-size="7.5" font-weight="bold" fill="#111" stroke="#111" stroke-width="0.15">2</text>
<text x="334.30" y="878" font-size="10" font-weight="bold" fill="#111" textLength="10.60" lengthAdjust="spacingAndGlyphs" stroke="#111" stroke-width="0.2" >10</text>
<text x="346.9" y="871.7" font-size="7.5" font-weight="bold" fill="#111" stroke="#111" stroke-width="0.15">1</text>
<text x="334.30" y="911" font-size="10" font-weight="bold" fill="#111" textLength="10.60" lengthAdjust="spacingAndGlyphs" stroke="#111" stroke-width="0.2" >10</text>
<text x="346.9" y="904.7" font-size="7.5" font-weight="bold" fill="#111" stroke="#111" stroke-width="0.15">0</text>
<text x="351.20" y="924.5" font-size="10.5" font-weight="bold" fill="#111" textLength="11.00" lengthAdjust="spacingAndGlyphs" stroke="#111" stroke-width="0.2" >10</text>
<text x="363.4" y="919.2" font-size="8.5" font-weight="bold" fill="#111" stroke="#111" stroke-width="0.15">0</text>
<text x="383.50" y="924.5" font-size="10.5" font-weight="bold" fill="#111" textLength="11.00" lengthAdjust="spacingAndGlyphs" stroke="#111" stroke-width="0.2" >10</text>
<text x="395.7" y="919.2" font-size="8.5" font-weight="bold" fill="#111" stroke="#111" stroke-width="0.15">1</text>
<text x="418.80" y="924.5" font-size="10.5" font-weight="bold" fill="#111" textLength="11.00" lengthAdjust="spacingAndGlyphs" stroke="#111" stroke-width="0.2" >10</text>
<text x="431.0" y="919.2" font-size="8.5" font-weight="bold" fill="#111" stroke="#111" stroke-width="0.15">2</text>
<text x="452.70" y="924.5" font-size="10.5" font-weight="bold" fill="#111" textLength="11.00" lengthAdjust="spacingAndGlyphs" stroke="#111" stroke-width="0.2" >10</text>
<text x="464.9" y="919.2" font-size="8.5" font-weight="bold" fill="#111" stroke="#111" stroke-width="0.15">3</text>
<text x="483.50" y="924.5" font-size="10.5" font-weight="bold" fill="#111" textLength="11.00" lengthAdjust="spacingAndGlyphs" stroke="#111" stroke-width="0.2" >10</text>
<text x="495.7" y="919.2" font-size="8.5" font-weight="bold" fill="#111" stroke="#111" stroke-width="0.15">4</text>
<ellipse cx="381.4" cy="802.3" rx="28.5" ry="18" fill="none" stroke="#741876" stroke-width="3"/>
<line x1="405.5" y1="789.2" x2="453.9" y2="785" stroke="#111" stroke-width="1.6" />
<text x="460.80" y="790.2" font-size="11.7" font-weight="bold" fill="#111" textLength="37.11" lengthAdjust="spacingAndGlyphs" stroke="#111" stroke-width="0.3" >17.5%</text>
<text x="439.00" y="767" font-size="12.9" font-weight="bold" fill="#111" textLength="62.30" lengthAdjust="spacingAndGlyphs" stroke="#111" stroke-width="0.3" >CNTO 530</text>
<defs><clipPath id="c6"><rect x="354.2" y="962.9" width="145.40000000000003" height="135.10000000000002"/></clipPath><filter id="f6" x="354.2" y="962.9" width="145.40000000000003" height="135.10000000000002" filterUnits="userSpaceOnUse" color-interpolation-filters="sRGB"><feGaussianBlur in="SourceAlpha" stdDeviation="2.5" result="d"/><feTurbulence type="fractalNoise" baseFrequency="1.7" numOctaves="2" seed="16" result="noise"/><feColorMatrix in="noise" type="matrix" values="0 0 0 0 0  0 0 0 0 0  0 0 0 0 0  1 0 0 0 0" result="nr"/><feComponentTransfer in="nr" result="u"><feFuncA type="table" tableValues="0.000 0.000 0.000 0.000 0.000 0.001 0.002 0.006 0.016 0.034 0.063 0.102 0.153 0.219 0.299 0.393 0.490 0.609 0.701 0.780 0.845 0.898 0.937 0.966 0.985 0.994 0.998 0.999 1.000 1.000 1.000 1.000 1.000"/></feComponentTransfer><feComposite in="d" in2="u" operator="arithmetic" k1="0" k2="6.6" k3="-6" k4="0" result="m"/><feFlood flood-color="#4a8fc5"/><feComposite in2="m" operator="in"/><feConvolveMatrix order="3" kernelMatrix="1 2 1 2 6 2 1 2 1" edgeMode="none"/></filter></defs>
<g clip-path="url(#c6)"><g filter="url(#f6)">
<rect x="354.2" y="962.9" width="145.40000000000003" height="135.10000000000002" fill="#fff" fill-opacity="0"/>
<ellipse cx="300.0" cy="800.0" rx="400" ry="800" fill="#000" fill-opacity="0.035" transform="rotate(0 300.0 800.0)"/>
<ellipse cx="384.0" cy="996.0" rx="28" ry="6.5" fill="#000" fill-opacity="0.72" transform="rotate(0 384.0 996.0)"/>
<ellipse cx="384.0" cy="996.0" rx="30" ry="10" fill="#000" fill-opacity="0.2" transform="rotate(0 384.0 996.0)"/>
<ellipse cx="440.0" cy="1008.0" rx="32" ry="24" fill="#000" fill-opacity="0.32" transform="rotate(-20 440.0 1008.0)"/>
<ellipse cx="442.0" cy="1014.0" rx="14" ry="11" fill="#000" fill-opacity="0.22" transform="rotate(0 442.0 1014.0)"/>
<ellipse cx="390.0" cy="1018.0" rx="34" ry="11" fill="#000" fill-opacity="0.15" transform="rotate(0 390.0 1018.0)"/>
<ellipse cx="424.0" cy="1030.0" rx="20" ry="12" fill="#000" fill-opacity="0.4" transform="rotate(-35 424.0 1030.0)"/>
<ellipse cx="393.0" cy="1052.0" rx="50" ry="40" fill="#000" fill-opacity="0.38" transform="rotate(-15 393.0 1052.0)"/>
<ellipse cx="387.0" cy="1057.0" rx="36" ry="26.5" fill="#000" fill-opacity="1" transform="rotate(-15 387.0 1057.0)"/>
<ellipse cx="362.0" cy="1059.0" rx="10" ry="25" fill="#000" fill-opacity="1" transform="rotate(0 362.0 1059.0)"/>
<ellipse cx="385.0" cy="1084.0" rx="20" ry="7" fill="#000" fill-opacity="0.45" transform="rotate(0 385.0 1084.0)"/>
<ellipse cx="454.0" cy="1060.0" rx="10" ry="13" fill="#000" fill-opacity="0.5" transform="rotate(0 454.0 1060.0)"/>
<ellipse cx="452.0" cy="1040.0" rx="9" ry="20" fill="#000" fill-opacity="0.22" transform="rotate(0 452.0 1040.0)"/>
<ellipse cx="432.0" cy="1068.0" rx="20" ry="15" fill="#000" fill-opacity="0.12" transform="rotate(0 432.0 1068.0)"/>
</g></g>
<rect x="354.2" y="962.9" width="145.40000000000003" height="135.10000000000002" fill="none" stroke="#666" stroke-width="1"/>
<line x1="351.2" y1="962.9" x2="354.2" y2="962.9" stroke="#333" stroke-width="1.1" />
<line x1="352.4" y1="986.507711896449" x2="354.2" y2="986.507711896449" stroke="#444" stroke-width="0.9" />
<line x1="352.4" y1="980.5602296218434" x2="354.2" y2="980.5602296218434" stroke="#444" stroke-width="0.9" />
<line x1="352.4" y1="976.340423792898" x2="354.2" y2="976.340423792898" stroke="#444" stroke-width="0.9" />
<line x1="352.4" y1="973.0672881035509" x2="354.2" y2="973.0672881035509" stroke="#444" stroke-width="0.9" />
<line x1="352.4" y1="970.3929415182923" x2="354.2" y2="970.3929415182923" stroke="#444" stroke-width="0.9" />
<line x1="352.4" y1="968.1318136985184" x2="354.2" y2="968.1318136985184" stroke="#444" stroke-width="0.9" />
<line x1="352.4" y1="966.1731356893471" x2="354.2" y2="966.1731356893471" stroke="#444" stroke-width="0.9" />
<line x1="352.4" y1="964.4454592436867" x2="354.2" y2="964.4454592436867" stroke="#444" stroke-width="0.9" />
<line x1="351.2" y1="996.675" x2="354.2" y2="996.675" stroke="#333" stroke-width="1.1" />
<line x1="352.4" y1="1020.2827118964491" x2="354.2" y2="1020.2827118964491" stroke="#444" stroke-width="0.9" />
<line x1="352.4" y1="1014.3352296218435" x2="354.2" y2="1014.3352296218435" stroke="#444" stroke-width="0.9" />
<line x1="352.4" y1="1010.1154237928981" x2="354.2" y2="1010.1154237928981" stroke="#444" stroke-width="0.9" />
<line x1="352.4" y1="1006.842288103551" x2="354.2" y2="1006.842288103551" stroke="#444" stroke-width="0.9" />
<line x1="352.4" y1="1004.1679415182924" x2="354.2" y2="1004.1679415182924" stroke="#444" stroke-width="0.9" />
<line x1="352.4" y1="1001.9068136985185" x2="354.2" y2="1001.9068136985185" stroke="#444" stroke-width="0.9" />
<line x1="352.4" y1="999.9481356893472" x2="354.2" y2="999.9481356893472" stroke="#444" stroke-width="0.9" />
<line x1="352.4" y1="998.2204592436868" x2="354.2" y2="998.2204592436868" stroke="#444" stroke-width="0.9" />
<line x1="351.2" y1="1030.45" x2="354.2" y2="1030.45" stroke="#333" stroke-width="1.1" />
<line x1="352.4" y1="1054.0577118964488" x2="354.2" y2="1054.0577118964488" stroke="#444" stroke-width="0.9" />
<line x1="352.4" y1="1048.1102296218432" x2="354.2" y2="1048.1102296218432" stroke="#444" stroke-width="0.9" />
<line x1="352.4" y1="1043.890423792898" x2="354.2" y2="1043.890423792898" stroke="#444" stroke-width="0.9" />
<line x1="352.4" y1="1040.617288103551" x2="354.2" y2="1040.617288103551" stroke="#444" stroke-width="0.9" />
<line x1="352.4" y1="1037.9429415182924" x2="354.2" y2="1037.9429415182924" stroke="#444" stroke-width="0.9" />
<line x1="352.4" y1="1035.6818136985185" x2="354.2" y2="1035.6818136985185" stroke="#444" stroke-width="0.9" />
<line x1="352.4" y1="1033.723135689347" x2="354.2" y2="1033.723135689347" stroke="#444" stroke-width="0.9" />
<line x1="352.4" y1="1031.9954592436868" x2="354.2" y2="1031.9954592436868" stroke="#444" stroke-width="0.9" />
<line x1="351.2" y1="1064.225" x2="354.2" y2="1064.225" stroke="#333" stroke-width="1.1" />
<line x1="352.4" y1="1087.832711896449" x2="354.2" y2="1087.832711896449" stroke="#444" stroke-width="0.9" />
<line x1="352.4" y1="1081.8852296218433" x2="354.2" y2="1081.8852296218433" stroke="#444" stroke-width="0.9" />
<line x1="352.4" y1="1077.665423792898" x2="354.2" y2="1077.665423792898" stroke="#444" stroke-width="0.9" />
<line x1="352.4" y1="1074.392288103551" x2="354.2" y2="1074.392288103551" stroke="#444" stroke-width="0.9" />
<line x1="352.4" y1="1071.7179415182925" x2="354.2" y2="1071.7179415182925" stroke="#444" stroke-width="0.9" />
<line x1="352.4" y1="1069.4568136985185" x2="354.2" y2="1069.4568136985185" stroke="#444" stroke-width="0.9" />
<line x1="352.4" y1="1067.498135689347" x2="354.2" y2="1067.498135689347" stroke="#444" stroke-width="0.9" />
<line x1="352.4" y1="1065.770459243687" x2="354.2" y2="1065.770459243687" stroke="#444" stroke-width="0.9" />
<line x1="351.2" y1="1098.0" x2="354.2" y2="1098.0" stroke="#333" stroke-width="1.1" />
<line x1="354.2" y1="1098" x2="354.2" y2="1101" stroke="#333" stroke-width="1.1" />
<line x1="365.1424403423857" y1="1098" x2="365.1424403423857" y2="1099.8" stroke="#444" stroke-width="0.9" />
<line x1="371.54335760905974" y1="1098" x2="371.54335760905974" y2="1099.8" stroke="#444" stroke-width="0.9" />
<line x1="376.0848806847714" y1="1098" x2="376.0848806847714" y2="1099.8" stroke="#444" stroke-width="0.9" />
<line x1="379.6075596576143" y1="1098" x2="379.6075596576143" y2="1099.8" stroke="#444" stroke-width="0.9" />
<line x1="382.4857979514454" y1="1098" x2="382.4857979514454" y2="1099.8" stroke="#444" stroke-width="0.9" />
<line x1="384.9193137545182" y1="1098" x2="384.9193137545182" y2="1099.8" stroke="#444" stroke-width="0.9" />
<line x1="387.02732102715714" y1="1098" x2="387.02732102715714" y2="1099.8" stroke="#444" stroke-width="0.9" />
<line x1="388.88671521811943" y1="1098" x2="388.88671521811943" y2="1099.8" stroke="#444" stroke-width="0.9" />
<line x1="390.55" y1="1098" x2="390.55" y2="1101" stroke="#333" stroke-width="1.1" />
<line x1="401.49244034238575" y1="1098" x2="401.49244034238575" y2="1099.8" stroke="#444" stroke-width="0.9" />
<line x1="407.89335760905976" y1="1098" x2="407.89335760905976" y2="1099.8" stroke="#444" stroke-width="0.9" />
<line x1="412.43488068477143" y1="1098" x2="412.43488068477143" y2="1099.8" stroke="#444" stroke-width="0.9" />
<line x1="415.9575596576143" y1="1098" x2="415.9575596576143" y2="1099.8" stroke="#444" stroke-width="0.9" />
<line x1="418.83579795144544" y1="1098" x2="418.83579795144544" y2="1099.8" stroke="#444" stroke-width="0.9" />
<line x1="421.26931375451824" y1="1098" x2="421.26931375451824" y2="1099.8" stroke="#444" stroke-width="0.9" />
<line x1="423.37732102715717" y1="1098" x2="423.37732102715717" y2="1099.8" stroke="#444" stroke-width="0.9" />
<line x1="425.23671521811946" y1="1098" x2="425.23671521811946" y2="1099.8" stroke="#444" stroke-width="0.9" />
<line x1="426.9" y1="1098" x2="426.9" y2="1101" stroke="#333" stroke-width="1.1" />
<line x1="437.8424403423857" y1="1098" x2="437.8424403423857" y2="1099.8" stroke="#444" stroke-width="0.9" />
<line x1="444.24335760905973" y1="1098" x2="444.24335760905973" y2="1099.8" stroke="#444" stroke-width="0.9" />
<line x1="448.7848806847714" y1="1098" x2="448.7848806847714" y2="1099.8" stroke="#444" stroke-width="0.9" />
<line x1="452.30755965761426" y1="1098" x2="452.30755965761426" y2="1099.8" stroke="#444" stroke-width="0.9" />
<line x1="455.1857979514454" y1="1098" x2="455.1857979514454" y2="1099.8" stroke="#444" stroke-width="0.9" />
<line x1="457.6193137545182" y1="1098" x2="457.6193137545182" y2="1099.8" stroke="#444" stroke-width="0.9" />
<line x1="459.72732102715713" y1="1098" x2="459.72732102715713" y2="1099.8" stroke="#444" stroke-width="0.9" />
<line x1="461.5867152181194" y1="1098" x2="461.5867152181194" y2="1099.8" stroke="#444" stroke-width="0.9" />
<line x1="463.25" y1="1098" x2="463.25" y2="1101" stroke="#333" stroke-width="1.1" />
<line x1="474.19244034238574" y1="1098" x2="474.19244034238574" y2="1099.8" stroke="#444" stroke-width="0.9" />
<line x1="480.59335760905975" y1="1098" x2="480.59335760905975" y2="1099.8" stroke="#444" stroke-width="0.9" />
<line x1="485.1348806847714" y1="1098" x2="485.1348806847714" y2="1099.8" stroke="#444" stroke-width="0.9" />
<line x1="488.6575596576143" y1="1098" x2="488.6575596576143" y2="1099.8" stroke="#444" stroke-width="0.9" />
<line x1="491.53579795144543" y1="1098" x2="491.53579795144543" y2="1099.8" stroke="#444" stroke-width="0.9" />
<line x1="493.9693137545182" y1="1098" x2="493.9693137545182" y2="1099.8" stroke="#444" stroke-width="0.9" />
<line x1="496.07732102715715" y1="1098" x2="496.07732102715715" y2="1099.8" stroke="#444" stroke-width="0.9" />
<line x1="497.93671521811945" y1="1098" x2="497.93671521811945" y2="1099.8" stroke="#444" stroke-width="0.9" />
<line x1="499.6" y1="1098" x2="499.6" y2="1101" stroke="#333" stroke-width="1.1" />
<text x="332.80" y="974.6" font-size="10" font-weight="bold" fill="#111" textLength="10.60" lengthAdjust="spacingAndGlyphs" stroke="#111" stroke-width="0.2" >10</text>
<text x="345.4" y="968.3" font-size="7.5" font-weight="bold" fill="#111" stroke="#111" stroke-width="0.15">4</text>
<text x="332.80" y="1006.6" font-size="10" font-weight="bold" fill="#111" textLength="10.60" lengthAdjust="spacingAndGlyphs" stroke="#111" stroke-width="0.2" >10</text>
<text x="345.4" y="1000.3" font-size="7.5" font-weight="bold" fill="#111" stroke="#111" stroke-width="0.15">3</text>
<text x="332.80" y="1035.3" font-size="10" font-weight="bold" fill="#111" textLength="10.60" lengthAdjust="spacingAndGlyphs" stroke="#111" stroke-width="0.2" >10</text>
<text x="345.4" y="1029.0" font-size="7.5" font-weight="bold" fill="#111" stroke="#111" stroke-width="0.15">2</text>
<text x="332.80" y="1068.3" font-size="10" font-weight="bold" fill="#111" textLength="10.60" lengthAdjust="spacingAndGlyphs" stroke="#111" stroke-width="0.2" >10</text>
<text x="345.4" y="1062.0" font-size="7.5" font-weight="bold" fill="#111" stroke="#111" stroke-width="0.15">1</text>
<text x="332.80" y="1101.6" font-size="10" font-weight="bold" fill="#111" textLength="10.60" lengthAdjust="spacingAndGlyphs" stroke="#111" stroke-width="0.2" >10</text>
<text x="345.4" y="1095.3" font-size="7.5" font-weight="bold" fill="#111" stroke="#111" stroke-width="0.15">0</text>
<text x="350.50" y="1112.9" font-size="10.5" font-weight="bold" fill="#111" textLength="11.00" lengthAdjust="spacingAndGlyphs" stroke="#111" stroke-width="0.2" >10</text>
<text x="362.7" y="1107.6" font-size="8.5" font-weight="bold" fill="#111" stroke="#111" stroke-width="0.15">0</text>
<text x="383.50" y="1112.9" font-size="10.5" font-weight="bold" fill="#111" textLength="11.00" lengthAdjust="spacingAndGlyphs" stroke="#111" stroke-width="0.2" >10</text>
<text x="395.7" y="1107.6" font-size="8.5" font-weight="bold" fill="#111" stroke="#111" stroke-width="0.15">1</text>
<text x="418.80" y="1112.9" font-size="10.5" font-weight="bold" fill="#111" textLength="11.00" lengthAdjust="spacingAndGlyphs" stroke="#111" stroke-width="0.2" >10</text>
<text x="431.0" y="1107.6" font-size="8.5" font-weight="bold" fill="#111" stroke="#111" stroke-width="0.15">2</text>
<text x="452.70" y="1112.9" font-size="10.5" font-weight="bold" fill="#111" textLength="11.00" lengthAdjust="spacingAndGlyphs" stroke="#111" stroke-width="0.2" >10</text>
<text x="464.9" y="1107.6" font-size="8.5" font-weight="bold" fill="#111" stroke="#111" stroke-width="0.15">3</text>
<text x="483.50" y="1112.9" font-size="10.5" font-weight="bold" fill="#111" textLength="11.00" lengthAdjust="spacingAndGlyphs" stroke="#111" stroke-width="0.2" >10</text>
<text x="495.7" y="1107.6" font-size="8.5" font-weight="bold" fill="#111" stroke="#111" stroke-width="0.15">4</text>
<ellipse cx="384.9" cy="995.9" rx="29" ry="13.6" fill="none" stroke="#7d2b7f" stroke-width="1.5"/>
<line x1="408.9" y1="985.7" x2="455.3" y2="976.3" stroke="#111" stroke-width="1.6" />
<text x="460.80" y="979.8" font-size="12" font-weight="bold" fill="#111" textLength="29.20" lengthAdjust="spacingAndGlyphs" stroke="#111" stroke-width="0.3" >3.4%</text>
<text x="418.30" y="959" font-size="12.8" font-weight="bold" fill="#111" textLength="81.30" lengthAdjust="spacingAndGlyphs" stroke="#111" stroke-width="0.3" >Darbepoietin</text>
</svg>
</body></html>
